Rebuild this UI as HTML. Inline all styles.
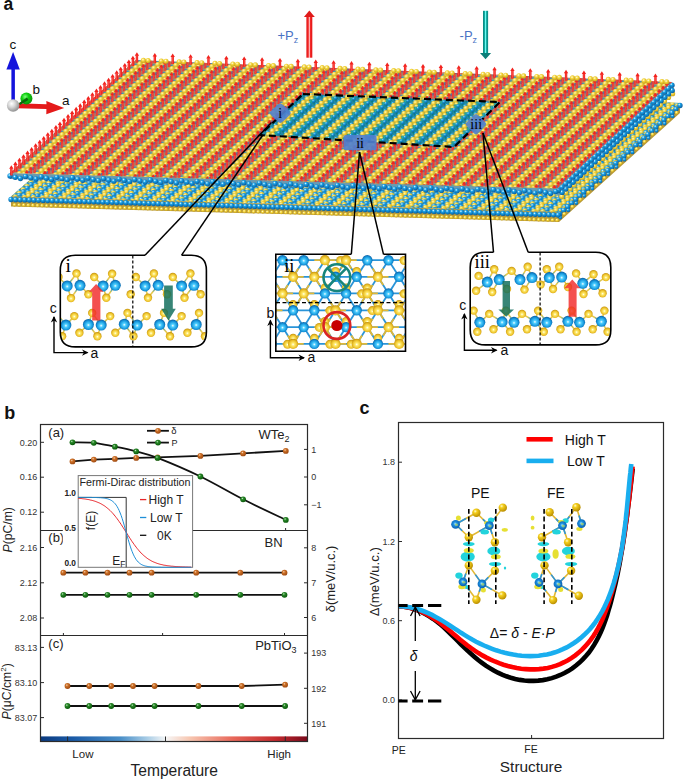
<!DOCTYPE html><html><head><meta charset="utf-8"><style>html,body{margin:0;padding:0;background:#fff;}svg{display:block;font-family:"Liberation Sans",sans-serif;}</style></head><body>
<svg width="685" height="779" viewBox="0 0 685 779">
<defs>
<linearGradient id="cbar" x1="0" x2="1" y1="0" y2="0"><stop offset="0" stop-color="#0b3a7e"/><stop offset="0.12" stop-color="#1a5aa6"/><stop offset="0.3" stop-color="#4a8fc8"/><stop offset="0.4" stop-color="#a9cde6"/><stop offset="0.47" stop-color="#f6f6f6"/><stop offset="0.56" stop-color="#f7c6b0"/><stop offset="0.72" stop-color="#e8685a"/><stop offset="0.88" stop-color="#c42a2e"/><stop offset="1" stop-color="#7a0a1c"/></linearGradient>
<radialGradient id="bo" cx="0.38" cy="0.35" r="0.65"><stop offset="0" stop-color="#f4d8c0"/><stop offset="0.3" stop-color="#d0742a"/><stop offset="1" stop-color="#a04a10"/></radialGradient>
<radialGradient id="bg" cx="0.38" cy="0.35" r="0.65"><stop offset="0" stop-color="#c8e8c8"/><stop offset="0.3" stop-color="#2a8a2a"/><stop offset="1" stop-color="#0a5a0a"/></radialGradient>
</defs>
<rect width="685" height="779" fill="#fff"/>
<defs>
<radialGradient id="gau" cx="0.4" cy="0.36" r="0.66"><stop offset="0" stop-color="#fffce0"/><stop offset="0.4" stop-color="#f6d83e"/><stop offset="1" stop-color="#c8a01a"/></radialGradient>
<radialGradient id="gbl" cx="0.36" cy="0.32" r="0.7"><stop offset="0" stop-color="#e0f8ff"/><stop offset="0.35" stop-color="#18a0e6"/><stop offset="1" stop-color="#0a5c9c"/></radialGradient>
<circle id="au" r="2.55" fill="url(#gau)"/>
<circle id="aud" r="2.0" fill="#d8b830"/>
<circle id="aus2" r="2.2" fill="url(#gau)"/>
<circle id="aus" r="1.8" fill="url(#gau)"/>
<circle id="bw" r="1.6" fill="#1e90d6"/>
<circle id="bwb" r="2.65" fill="url(#gbl)"/>
<circle id="bwm" r="1.9" fill="url(#gbl)"/>
<g id="ar"><rect x="-1.2" y="-6.8" width="2.4" height="7.2" fill="#f2221e"/><rect x="-0.25" y="-6.6" width="0.5" height="6.7" fill="#ff6a60"/><path d="M-2.2 -6.4 L0 -9.9 L2.2 -6.4Z" fill="#f2221e"/></g>
<g id="at"><rect x="-1.1" y="-4" width="2.2" height="7.2" fill="#0b8a88"/><rect x="-0.3" y="-3.8" width="0.6" height="6.8" fill="#40c8c0"/><path d="M-2 3 L0 6.2 L2 3Z" fill="#0a7c7a"/></g>
<pattern id="ptop" patternUnits="userSpaceOnUse" x="0" y="0" width="4" height="1" patternTransform="matrix(4.5142 0.1562 -3.8806 3.5403 135.6 60)">
<use href="#au" transform="matrix(0.2134 -0.0094 0.2339 0.2721 -2.25 -2)"/>
<use href="#aus2" transform="matrix(0.2134 -0.0094 0.2339 0.2721 -1.2 -2)"/>
<use href="#au" transform="matrix(0.2134 -0.0094 0.2339 0.2721 1.75 -2)"/>
<use href="#aus2" transform="matrix(0.2134 -0.0094 0.2339 0.2721 2.8 -2)"/>
<use href="#au" transform="matrix(0.2134 -0.0094 0.2339 0.2721 5.75 -2)"/>
<use href="#bw" transform="matrix(0.2134 -0.0094 0.2339 0.2721 -0.4 -1.5)"/>
<use href="#bw" transform="matrix(0.2134 -0.0094 0.2339 0.2721 1.2 -1.55)"/>
<use href="#ar" transform="matrix(0.2134 -0.0094 0.2339 0.2721 0.77 -1.46)"/>
<use href="#bw" transform="matrix(0.2134 -0.0094 0.2339 0.2721 3.6 -1.5)"/>
<use href="#bw" transform="matrix(0.2134 -0.0094 0.2339 0.2721 5.2 -1.55)"/>
<use href="#ar" transform="matrix(0.2134 -0.0094 0.2339 0.2721 4.77 -1.46)"/>
<use href="#au" transform="matrix(0.2134 -0.0094 0.2339 0.2721 -2.25 -1)"/>
<use href="#aus2" transform="matrix(0.2134 -0.0094 0.2339 0.2721 -1.2 -1)"/>
<use href="#au" transform="matrix(0.2134 -0.0094 0.2339 0.2721 1.75 -1)"/>
<use href="#aus2" transform="matrix(0.2134 -0.0094 0.2339 0.2721 2.8 -1)"/>
<use href="#au" transform="matrix(0.2134 -0.0094 0.2339 0.2721 5.75 -1)"/>
<use href="#bw" transform="matrix(0.2134 -0.0094 0.2339 0.2721 -0.4 -0.5)"/>
<use href="#bw" transform="matrix(0.2134 -0.0094 0.2339 0.2721 1.2 -0.55)"/>
<use href="#ar" transform="matrix(0.2134 -0.0094 0.2339 0.2721 0.77 -0.46)"/>
<use href="#bw" transform="matrix(0.2134 -0.0094 0.2339 0.2721 3.6 -0.5)"/>
<use href="#bw" transform="matrix(0.2134 -0.0094 0.2339 0.2721 5.2 -0.55)"/>
<use href="#ar" transform="matrix(0.2134 -0.0094 0.2339 0.2721 4.77 -0.46)"/>
<use href="#au" transform="matrix(0.2134 -0.0094 0.2339 0.2721 -2.25 0)"/>
<use href="#aus2" transform="matrix(0.2134 -0.0094 0.2339 0.2721 -1.2 0)"/>
<use href="#au" transform="matrix(0.2134 -0.0094 0.2339 0.2721 1.75 0)"/>
<use href="#aus2" transform="matrix(0.2134 -0.0094 0.2339 0.2721 2.8 0)"/>
<use href="#au" transform="matrix(0.2134 -0.0094 0.2339 0.2721 5.75 0)"/>
<use href="#bw" transform="matrix(0.2134 -0.0094 0.2339 0.2721 -0.4 0.5)"/>
<use href="#bw" transform="matrix(0.2134 -0.0094 0.2339 0.2721 1.2 0.45)"/>
<use href="#ar" transform="matrix(0.2134 -0.0094 0.2339 0.2721 0.77 0.54)"/>
<use href="#bw" transform="matrix(0.2134 -0.0094 0.2339 0.2721 3.6 0.5)"/>
<use href="#bw" transform="matrix(0.2134 -0.0094 0.2339 0.2721 5.2 0.45)"/>
<use href="#ar" transform="matrix(0.2134 -0.0094 0.2339 0.2721 4.77 0.54)"/>
<use href="#au" transform="matrix(0.2134 -0.0094 0.2339 0.2721 -2.25 1)"/>
<use href="#aus2" transform="matrix(0.2134 -0.0094 0.2339 0.2721 -1.2 1)"/>
<use href="#au" transform="matrix(0.2134 -0.0094 0.2339 0.2721 1.75 1)"/>
<use href="#aus2" transform="matrix(0.2134 -0.0094 0.2339 0.2721 2.8 1)"/>
<use href="#au" transform="matrix(0.2134 -0.0094 0.2339 0.2721 5.75 1)"/>
<use href="#bw" transform="matrix(0.2134 -0.0094 0.2339 0.2721 -0.4 1.5)"/>
<use href="#bw" transform="matrix(0.2134 -0.0094 0.2339 0.2721 1.2 1.45)"/>
<use href="#ar" transform="matrix(0.2134 -0.0094 0.2339 0.2721 0.77 1.54)"/>
<use href="#bw" transform="matrix(0.2134 -0.0094 0.2339 0.2721 3.6 1.5)"/>
<use href="#bw" transform="matrix(0.2134 -0.0094 0.2339 0.2721 5.2 1.45)"/>
<use href="#ar" transform="matrix(0.2134 -0.0094 0.2339 0.2721 4.77 1.54)"/>
<use href="#au" transform="matrix(0.2134 -0.0094 0.2339 0.2721 -2.25 2)"/>
<use href="#aus2" transform="matrix(0.2134 -0.0094 0.2339 0.2721 -1.2 2)"/>
<use href="#au" transform="matrix(0.2134 -0.0094 0.2339 0.2721 1.75 2)"/>
<use href="#aus2" transform="matrix(0.2134 -0.0094 0.2339 0.2721 2.8 2)"/>
<use href="#au" transform="matrix(0.2134 -0.0094 0.2339 0.2721 5.75 2)"/>
<use href="#bw" transform="matrix(0.2134 -0.0094 0.2339 0.2721 -0.4 2.5)"/>
<use href="#bw" transform="matrix(0.2134 -0.0094 0.2339 0.2721 1.2 2.45)"/>
<use href="#ar" transform="matrix(0.2134 -0.0094 0.2339 0.2721 0.77 2.54)"/>
<use href="#bw" transform="matrix(0.2134 -0.0094 0.2339 0.2721 3.6 2.5)"/>
<use href="#bw" transform="matrix(0.2134 -0.0094 0.2339 0.2721 5.2 2.45)"/>
<use href="#ar" transform="matrix(0.2134 -0.0094 0.2339 0.2721 4.77 2.54)"/>
</pattern>
<pattern id="pdsh" patternUnits="userSpaceOnUse" x="0" y="0" width="4" height="1" patternTransform="matrix(4.5142 0.1562 -3.8806 3.5403 135.6 60)">
<use href="#at" transform="matrix(0.2134 -0.0094 0.2339 0.2721 -0.4 -2.82)"/>
<use href="#at" transform="matrix(0.2134 -0.0094 0.2339 0.2721 3.6 -2.82)"/>
<use href="#au" transform="matrix(0.2134 -0.0094 0.2339 0.2721 -2.25 -2)"/>
<use href="#aus2" transform="matrix(0.2134 -0.0094 0.2339 0.2721 -1.2 -2)"/>
<use href="#au" transform="matrix(0.2134 -0.0094 0.2339 0.2721 1.75 -2)"/>
<use href="#aus2" transform="matrix(0.2134 -0.0094 0.2339 0.2721 2.8 -2)"/>
<use href="#at" transform="matrix(0.2134 -0.0094 0.2339 0.2721 -0.4 -1.82)"/>
<use href="#au" transform="matrix(0.2134 -0.0094 0.2339 0.2721 5.75 -2)"/>
<use href="#at" transform="matrix(0.2134 -0.0094 0.2339 0.2721 3.6 -1.82)"/>
<use href="#bwm" transform="matrix(0.2134 -0.0094 0.2339 0.2721 -0.4 -1.5)"/>
<use href="#bwm" transform="matrix(0.2134 -0.0094 0.2339 0.2721 1.1 -1.55)"/>
<use href="#bwm" transform="matrix(0.2134 -0.0094 0.2339 0.2721 3.6 -1.5)"/>
<use href="#bwm" transform="matrix(0.2134 -0.0094 0.2339 0.2721 5.1 -1.55)"/>
<use href="#au" transform="matrix(0.2134 -0.0094 0.2339 0.2721 -2.25 -1)"/>
<use href="#aus2" transform="matrix(0.2134 -0.0094 0.2339 0.2721 -1.2 -1)"/>
<use href="#au" transform="matrix(0.2134 -0.0094 0.2339 0.2721 1.75 -1)"/>
<use href="#aus2" transform="matrix(0.2134 -0.0094 0.2339 0.2721 2.8 -1)"/>
<use href="#at" transform="matrix(0.2134 -0.0094 0.2339 0.2721 -0.4 -0.82)"/>
<use href="#au" transform="matrix(0.2134 -0.0094 0.2339 0.2721 5.75 -1)"/>
<use href="#at" transform="matrix(0.2134 -0.0094 0.2339 0.2721 3.6 -0.82)"/>
<use href="#bwm" transform="matrix(0.2134 -0.0094 0.2339 0.2721 -0.4 -0.5)"/>
<use href="#bwm" transform="matrix(0.2134 -0.0094 0.2339 0.2721 1.1 -0.55)"/>
<use href="#bwm" transform="matrix(0.2134 -0.0094 0.2339 0.2721 3.6 -0.5)"/>
<use href="#bwm" transform="matrix(0.2134 -0.0094 0.2339 0.2721 5.1 -0.55)"/>
<use href="#au" transform="matrix(0.2134 -0.0094 0.2339 0.2721 -2.25 0)"/>
<use href="#aus2" transform="matrix(0.2134 -0.0094 0.2339 0.2721 -1.2 0)"/>
<use href="#au" transform="matrix(0.2134 -0.0094 0.2339 0.2721 1.75 0)"/>
<use href="#aus2" transform="matrix(0.2134 -0.0094 0.2339 0.2721 2.8 0)"/>
<use href="#at" transform="matrix(0.2134 -0.0094 0.2339 0.2721 -0.4 0.18)"/>
<use href="#au" transform="matrix(0.2134 -0.0094 0.2339 0.2721 5.75 0)"/>
<use href="#at" transform="matrix(0.2134 -0.0094 0.2339 0.2721 3.6 0.18)"/>
<use href="#bwm" transform="matrix(0.2134 -0.0094 0.2339 0.2721 -0.4 0.5)"/>
<use href="#bwm" transform="matrix(0.2134 -0.0094 0.2339 0.2721 1.1 0.45)"/>
<use href="#bwm" transform="matrix(0.2134 -0.0094 0.2339 0.2721 3.6 0.5)"/>
<use href="#bwm" transform="matrix(0.2134 -0.0094 0.2339 0.2721 5.1 0.45)"/>
<use href="#au" transform="matrix(0.2134 -0.0094 0.2339 0.2721 -2.25 1)"/>
<use href="#aus2" transform="matrix(0.2134 -0.0094 0.2339 0.2721 -1.2 1)"/>
<use href="#au" transform="matrix(0.2134 -0.0094 0.2339 0.2721 1.75 1)"/>
<use href="#aus2" transform="matrix(0.2134 -0.0094 0.2339 0.2721 2.8 1)"/>
<use href="#at" transform="matrix(0.2134 -0.0094 0.2339 0.2721 -0.4 1.18)"/>
<use href="#au" transform="matrix(0.2134 -0.0094 0.2339 0.2721 5.75 1)"/>
<use href="#at" transform="matrix(0.2134 -0.0094 0.2339 0.2721 3.6 1.18)"/>
<use href="#bwm" transform="matrix(0.2134 -0.0094 0.2339 0.2721 -0.4 1.5)"/>
<use href="#bwm" transform="matrix(0.2134 -0.0094 0.2339 0.2721 1.1 1.45)"/>
<use href="#bwm" transform="matrix(0.2134 -0.0094 0.2339 0.2721 3.6 1.5)"/>
<use href="#bwm" transform="matrix(0.2134 -0.0094 0.2339 0.2721 5.1 1.45)"/>
<use href="#au" transform="matrix(0.2134 -0.0094 0.2339 0.2721 -2.25 2)"/>
<use href="#aus2" transform="matrix(0.2134 -0.0094 0.2339 0.2721 -1.2 2)"/>
<use href="#au" transform="matrix(0.2134 -0.0094 0.2339 0.2721 1.75 2)"/>
<use href="#aus2" transform="matrix(0.2134 -0.0094 0.2339 0.2721 2.8 2)"/>
<use href="#au" transform="matrix(0.2134 -0.0094 0.2339 0.2721 5.75 2)"/>
<use href="#bwm" transform="matrix(0.2134 -0.0094 0.2339 0.2721 -0.4 2.5)"/>
<use href="#bwm" transform="matrix(0.2134 -0.0094 0.2339 0.2721 1.1 2.45)"/>
<use href="#bwm" transform="matrix(0.2134 -0.0094 0.2339 0.2721 3.6 2.5)"/>
<use href="#bwm" transform="matrix(0.2134 -0.0094 0.2339 0.2721 5.1 2.45)"/>
</pattern>
<pattern id="plow" patternUnits="userSpaceOnUse" x="0" y="0" width="4" height="1" patternTransform="matrix(4.5142 0.1562 -3.8806 3.5403 143.6 82)">
<use href="#au" transform="matrix(0.2134 -0.0094 0.2339 0.2721 -2 -2)"/>
<use href="#bwb" transform="matrix(0.2134 -0.0094 0.2339 0.2721 -1 -2)"/>
<use href="#bwb" transform="matrix(0.2134 -0.0094 0.2339 0.2721 0 -2)"/>
<use href="#bwb" transform="matrix(0.2134 -0.0094 0.2339 0.2721 1 -2)"/>
<use href="#au" transform="matrix(0.2134 -0.0094 0.2339 0.2721 2 -2)"/>
<use href="#bwb" transform="matrix(0.2134 -0.0094 0.2339 0.2721 3 -2)"/>
<use href="#bwb" transform="matrix(0.2134 -0.0094 0.2339 0.2721 4 -2)"/>
<use href="#bwb" transform="matrix(0.2134 -0.0094 0.2339 0.2721 5 -2)"/>
<use href="#au" transform="matrix(0.2134 -0.0094 0.2339 0.2721 6 -2)"/>
<use href="#au" transform="matrix(0.2134 -0.0094 0.2339 0.2721 -2.5 -1.5)"/>
<use href="#au" transform="matrix(0.2134 -0.0094 0.2339 0.2721 -0.5 -1.5)"/>
<use href="#au" transform="matrix(0.2134 -0.0094 0.2339 0.2721 1.5 -1.5)"/>
<use href="#au" transform="matrix(0.2134 -0.0094 0.2339 0.2721 3.5 -1.5)"/>
<use href="#au" transform="matrix(0.2134 -0.0094 0.2339 0.2721 5.5 -1.5)"/>
<use href="#au" transform="matrix(0.2134 -0.0094 0.2339 0.2721 -2 -1)"/>
<use href="#bwb" transform="matrix(0.2134 -0.0094 0.2339 0.2721 -1 -1)"/>
<use href="#bwb" transform="matrix(0.2134 -0.0094 0.2339 0.2721 0 -1)"/>
<use href="#bwb" transform="matrix(0.2134 -0.0094 0.2339 0.2721 1 -1)"/>
<use href="#au" transform="matrix(0.2134 -0.0094 0.2339 0.2721 2 -1)"/>
<use href="#bwb" transform="matrix(0.2134 -0.0094 0.2339 0.2721 3 -1)"/>
<use href="#bwb" transform="matrix(0.2134 -0.0094 0.2339 0.2721 4 -1)"/>
<use href="#bwb" transform="matrix(0.2134 -0.0094 0.2339 0.2721 5 -1)"/>
<use href="#au" transform="matrix(0.2134 -0.0094 0.2339 0.2721 6 -1)"/>
<use href="#au" transform="matrix(0.2134 -0.0094 0.2339 0.2721 -2.5 -0.5)"/>
<use href="#au" transform="matrix(0.2134 -0.0094 0.2339 0.2721 -0.5 -0.5)"/>
<use href="#au" transform="matrix(0.2134 -0.0094 0.2339 0.2721 1.5 -0.5)"/>
<use href="#au" transform="matrix(0.2134 -0.0094 0.2339 0.2721 3.5 -0.5)"/>
<use href="#au" transform="matrix(0.2134 -0.0094 0.2339 0.2721 5.5 -0.5)"/>
<use href="#au" transform="matrix(0.2134 -0.0094 0.2339 0.2721 -2 0)"/>
<use href="#bwb" transform="matrix(0.2134 -0.0094 0.2339 0.2721 -1 0)"/>
<use href="#bwb" transform="matrix(0.2134 -0.0094 0.2339 0.2721 0 0)"/>
<use href="#bwb" transform="matrix(0.2134 -0.0094 0.2339 0.2721 1 0)"/>
<use href="#au" transform="matrix(0.2134 -0.0094 0.2339 0.2721 2 0)"/>
<use href="#bwb" transform="matrix(0.2134 -0.0094 0.2339 0.2721 3 0)"/>
<use href="#bwb" transform="matrix(0.2134 -0.0094 0.2339 0.2721 4 0)"/>
<use href="#bwb" transform="matrix(0.2134 -0.0094 0.2339 0.2721 5 0)"/>
<use href="#au" transform="matrix(0.2134 -0.0094 0.2339 0.2721 6 0)"/>
<use href="#au" transform="matrix(0.2134 -0.0094 0.2339 0.2721 -2.5 0.5)"/>
<use href="#au" transform="matrix(0.2134 -0.0094 0.2339 0.2721 -0.5 0.5)"/>
<use href="#au" transform="matrix(0.2134 -0.0094 0.2339 0.2721 1.5 0.5)"/>
<use href="#au" transform="matrix(0.2134 -0.0094 0.2339 0.2721 3.5 0.5)"/>
<use href="#au" transform="matrix(0.2134 -0.0094 0.2339 0.2721 5.5 0.5)"/>
<use href="#au" transform="matrix(0.2134 -0.0094 0.2339 0.2721 -2 1)"/>
<use href="#bwb" transform="matrix(0.2134 -0.0094 0.2339 0.2721 -1 1)"/>
<use href="#bwb" transform="matrix(0.2134 -0.0094 0.2339 0.2721 0 1)"/>
<use href="#bwb" transform="matrix(0.2134 -0.0094 0.2339 0.2721 1 1)"/>
<use href="#au" transform="matrix(0.2134 -0.0094 0.2339 0.2721 2 1)"/>
<use href="#bwb" transform="matrix(0.2134 -0.0094 0.2339 0.2721 3 1)"/>
<use href="#bwb" transform="matrix(0.2134 -0.0094 0.2339 0.2721 4 1)"/>
<use href="#bwb" transform="matrix(0.2134 -0.0094 0.2339 0.2721 5 1)"/>
<use href="#au" transform="matrix(0.2134 -0.0094 0.2339 0.2721 6 1)"/>
<use href="#au" transform="matrix(0.2134 -0.0094 0.2339 0.2721 -2.5 1.5)"/>
<use href="#au" transform="matrix(0.2134 -0.0094 0.2339 0.2721 -0.5 1.5)"/>
<use href="#au" transform="matrix(0.2134 -0.0094 0.2339 0.2721 1.5 1.5)"/>
<use href="#au" transform="matrix(0.2134 -0.0094 0.2339 0.2721 3.5 1.5)"/>
<use href="#au" transform="matrix(0.2134 -0.0094 0.2339 0.2721 5.5 1.5)"/>
<use href="#au" transform="matrix(0.2134 -0.0094 0.2339 0.2721 -2 2)"/>
<use href="#bwb" transform="matrix(0.2134 -0.0094 0.2339 0.2721 -1 2)"/>
<use href="#bwb" transform="matrix(0.2134 -0.0094 0.2339 0.2721 0 2)"/>
<use href="#bwb" transform="matrix(0.2134 -0.0094 0.2339 0.2721 1 2)"/>
<use href="#au" transform="matrix(0.2134 -0.0094 0.2339 0.2721 2 2)"/>
<use href="#bwb" transform="matrix(0.2134 -0.0094 0.2339 0.2721 3 2)"/>
<use href="#bwb" transform="matrix(0.2134 -0.0094 0.2339 0.2721 4 2)"/>
<use href="#bwb" transform="matrix(0.2134 -0.0094 0.2339 0.2721 5 2)"/>
<use href="#au" transform="matrix(0.2134 -0.0094 0.2339 0.2721 6 2)"/>
<use href="#au" transform="matrix(0.2134 -0.0094 0.2339 0.2721 -2.5 2.5)"/>
<use href="#au" transform="matrix(0.2134 -0.0094 0.2339 0.2721 -0.5 2.5)"/>
<use href="#au" transform="matrix(0.2134 -0.0094 0.2339 0.2721 1.5 2.5)"/>
<use href="#au" transform="matrix(0.2134 -0.0094 0.2339 0.2721 3.5 2.5)"/>
<use href="#au" transform="matrix(0.2134 -0.0094 0.2339 0.2721 5.5 2.5)"/>
</pattern>
</defs>
<polygon points="143.6,80 680,103 559,212 11,196.5" fill="#c9a832"/>
<polygon points="143.6,80 680,103 559,212 11,196.5" fill="url(#plow)"/>
<polygon points="11,196.5 559,212 680,103 680,113 559,222 11,206.5" fill="#b89a3a"/>
<use href="#bwb" x="680" y="105.5"/>
<use href="#bwb" x="675.99" y="109.11"/>
<use href="#bwb" x="671.98" y="112.73"/>
<use href="#bwb" x="667.96" y="116.34"/>
<use href="#bwb" x="663.95" y="119.96"/>
<use href="#bwb" x="659.94" y="123.57"/>
<use href="#bwb" x="655.93" y="127.19"/>
<use href="#bwb" x="651.92" y="130.8"/>
<use href="#bwb" x="647.9" y="134.41"/>
<use href="#bwb" x="643.89" y="138.03"/>
<use href="#bwb" x="639.88" y="141.64"/>
<use href="#bwb" x="635.87" y="145.26"/>
<use href="#bwb" x="631.85" y="148.87"/>
<use href="#bwb" x="627.84" y="152.49"/>
<use href="#bwb" x="623.83" y="156.1"/>
<use href="#bwb" x="619.82" y="159.71"/>
<use href="#bwb" x="615.81" y="163.33"/>
<use href="#bwb" x="611.79" y="166.94"/>
<use href="#bwb" x="607.78" y="170.56"/>
<use href="#bwb" x="603.77" y="174.17"/>
<use href="#bwb" x="599.76" y="177.78"/>
<use href="#bwb" x="595.75" y="181.4"/>
<use href="#bwb" x="591.73" y="185.01"/>
<use href="#bwb" x="587.72" y="188.63"/>
<use href="#bwb" x="583.71" y="192.24"/>
<use href="#bwb" x="579.7" y="195.86"/>
<use href="#bwb" x="575.68" y="199.47"/>
<use href="#bwb" x="571.67" y="203.08"/>
<use href="#bwb" x="567.66" y="206.7"/>
<use href="#bwb" x="563.65" y="210.31"/>
<use href="#bwb" x="559.64" y="213.93"/>
<use href="#aus" x="676.64" y="112.67"/>
<use href="#aus" x="668.62" y="119.9"/>
<use href="#aus" x="660.59" y="127.13"/>
<use href="#aus" x="652.57" y="134.36"/>
<use href="#aus" x="644.55" y="141.59"/>
<use href="#aus" x="636.52" y="148.82"/>
<use href="#aus" x="628.5" y="156.04"/>
<use href="#aus" x="620.47" y="163.27"/>
<use href="#aus" x="612.45" y="170.5"/>
<use href="#aus" x="604.42" y="177.73"/>
<use href="#aus" x="596.4" y="184.96"/>
<use href="#aus" x="588.38" y="192.19"/>
<use href="#aus" x="580.35" y="199.42"/>
<use href="#aus" x="572.33" y="206.64"/>
<use href="#aus" x="564.3" y="213.87"/>
<use href="#bwm" x="672.63" y="116.29"/>
<use href="#bwm" x="664.61" y="123.52"/>
<use href="#bwm" x="656.58" y="130.74"/>
<use href="#bwm" x="648.56" y="137.97"/>
<use href="#bwm" x="640.53" y="145.2"/>
<use href="#bwm" x="632.51" y="152.43"/>
<use href="#bwm" x="624.48" y="159.66"/>
<use href="#bwm" x="616.46" y="166.89"/>
<use href="#bwm" x="608.44" y="174.12"/>
<use href="#bwm" x="600.41" y="181.34"/>
<use href="#bwm" x="592.39" y="188.57"/>
<use href="#bwm" x="584.36" y="195.8"/>
<use href="#bwm" x="576.34" y="203.03"/>
<use href="#bwm" x="568.31" y="210.26"/>
<use href="#bwm" x="560.29" y="217.49"/>
<use href="#bwb" x="11" y="199.5"/>
<use href="#bwb" x="15.6" y="199.63"/>
<use href="#bwb" x="20.2" y="199.76"/>
<use href="#bwb" x="24.79" y="199.89"/>
<use href="#bwb" x="29.39" y="200.02"/>
<use href="#bwb" x="33.99" y="200.15"/>
<use href="#bwb" x="38.59" y="200.28"/>
<use href="#bwb" x="43.19" y="200.41"/>
<use href="#bwb" x="47.79" y="200.54"/>
<use href="#bwb" x="52.38" y="200.67"/>
<use href="#bwb" x="56.98" y="200.8"/>
<use href="#bwb" x="61.58" y="200.93"/>
<use href="#bwb" x="66.18" y="201.06"/>
<use href="#bwb" x="70.78" y="201.19"/>
<use href="#bwb" x="75.37" y="201.32"/>
<use href="#bwb" x="79.97" y="201.45"/>
<use href="#bwb" x="84.57" y="201.58"/>
<use href="#bwb" x="89.17" y="201.71"/>
<use href="#bwb" x="93.77" y="201.84"/>
<use href="#bwb" x="98.37" y="201.97"/>
<use href="#bwb" x="102.96" y="202.1"/>
<use href="#bwb" x="107.56" y="202.23"/>
<use href="#bwb" x="112.16" y="202.36"/>
<use href="#bwb" x="116.76" y="202.49"/>
<use href="#bwb" x="121.36" y="202.62"/>
<use href="#bwb" x="125.95" y="202.75"/>
<use href="#bwb" x="130.55" y="202.88"/>
<use href="#bwb" x="135.15" y="203.01"/>
<use href="#bwb" x="139.75" y="203.14"/>
<use href="#bwb" x="144.35" y="203.27"/>
<use href="#bwb" x="148.94" y="203.4"/>
<use href="#bwb" x="153.54" y="203.53"/>
<use href="#bwb" x="158.14" y="203.66"/>
<use href="#bwb" x="162.74" y="203.79"/>
<use href="#bwb" x="167.34" y="203.92"/>
<use href="#bwb" x="171.94" y="204.05"/>
<use href="#bwb" x="176.53" y="204.18"/>
<use href="#bwb" x="181.13" y="204.31"/>
<use href="#bwb" x="185.73" y="204.44"/>
<use href="#bwb" x="190.33" y="204.57"/>
<use href="#bwb" x="194.93" y="204.7"/>
<use href="#bwb" x="199.52" y="204.83"/>
<use href="#bwb" x="204.12" y="204.96"/>
<use href="#bwb" x="208.72" y="205.09"/>
<use href="#bwb" x="213.32" y="205.22"/>
<use href="#bwb" x="217.92" y="205.35"/>
<use href="#bwb" x="222.52" y="205.48"/>
<use href="#bwb" x="227.11" y="205.61"/>
<use href="#bwb" x="231.71" y="205.74"/>
<use href="#bwb" x="236.31" y="205.87"/>
<use href="#bwb" x="240.91" y="206"/>
<use href="#bwb" x="245.51" y="206.13"/>
<use href="#bwb" x="250.1" y="206.26"/>
<use href="#bwb" x="254.7" y="206.39"/>
<use href="#bwb" x="259.3" y="206.52"/>
<use href="#bwb" x="263.9" y="206.65"/>
<use href="#bwb" x="268.5" y="206.78"/>
<use href="#bwb" x="273.1" y="206.91"/>
<use href="#bwb" x="277.69" y="207.04"/>
<use href="#bwb" x="282.29" y="207.17"/>
<use href="#bwb" x="286.89" y="207.3"/>
<use href="#bwb" x="291.49" y="207.43"/>
<use href="#bwb" x="296.09" y="207.56"/>
<use href="#bwb" x="300.68" y="207.69"/>
<use href="#bwb" x="305.28" y="207.82"/>
<use href="#bwb" x="309.88" y="207.95"/>
<use href="#bwb" x="314.48" y="208.08"/>
<use href="#bwb" x="319.08" y="208.21"/>
<use href="#bwb" x="323.67" y="208.34"/>
<use href="#bwb" x="328.27" y="208.47"/>
<use href="#bwb" x="332.87" y="208.6"/>
<use href="#bwb" x="337.47" y="208.73"/>
<use href="#bwb" x="342.07" y="208.86"/>
<use href="#bwb" x="346.67" y="208.99"/>
<use href="#bwb" x="351.26" y="209.12"/>
<use href="#bwb" x="355.86" y="209.25"/>
<use href="#bwb" x="360.46" y="209.38"/>
<use href="#bwb" x="365.06" y="209.51"/>
<use href="#bwb" x="369.66" y="209.64"/>
<use href="#bwb" x="374.25" y="209.77"/>
<use href="#bwb" x="378.85" y="209.9"/>
<use href="#bwb" x="383.45" y="210.03"/>
<use href="#bwb" x="388.05" y="210.16"/>
<use href="#bwb" x="392.65" y="210.29"/>
<use href="#bwb" x="397.25" y="210.42"/>
<use href="#bwb" x="401.84" y="210.55"/>
<use href="#bwb" x="406.44" y="210.68"/>
<use href="#bwb" x="411.04" y="210.82"/>
<use href="#bwb" x="415.64" y="210.95"/>
<use href="#bwb" x="420.24" y="211.08"/>
<use href="#bwb" x="424.83" y="211.21"/>
<use href="#bwb" x="429.43" y="211.34"/>
<use href="#bwb" x="434.03" y="211.47"/>
<use href="#bwb" x="438.63" y="211.6"/>
<use href="#bwb" x="443.23" y="211.73"/>
<use href="#bwb" x="447.83" y="211.86"/>
<use href="#bwb" x="452.42" y="211.99"/>
<use href="#bwb" x="457.02" y="212.12"/>
<use href="#bwb" x="461.62" y="212.25"/>
<use href="#bwb" x="466.22" y="212.38"/>
<use href="#bwb" x="470.82" y="212.51"/>
<use href="#bwb" x="475.41" y="212.64"/>
<use href="#bwb" x="480.01" y="212.77"/>
<use href="#bwb" x="484.61" y="212.9"/>
<use href="#bwb" x="489.21" y="213.03"/>
<use href="#bwb" x="493.81" y="213.16"/>
<use href="#bwb" x="498.41" y="213.29"/>
<use href="#bwb" x="503" y="213.42"/>
<use href="#bwb" x="507.6" y="213.55"/>
<use href="#bwb" x="512.2" y="213.68"/>
<use href="#bwb" x="516.8" y="213.81"/>
<use href="#bwb" x="521.4" y="213.94"/>
<use href="#bwb" x="525.99" y="214.07"/>
<use href="#bwb" x="530.59" y="214.2"/>
<use href="#bwb" x="535.19" y="214.33"/>
<use href="#bwb" x="539.79" y="214.46"/>
<use href="#bwb" x="544.39" y="214.59"/>
<use href="#bwb" x="548.98" y="214.72"/>
<use href="#bwb" x="553.58" y="214.85"/>
<use href="#bwb" x="558.18" y="214.98"/>
<use href="#aus" x="14.5" y="204.84"/>
<use href="#aus" x="19.1" y="204.97"/>
<use href="#aus" x="23.7" y="205.1"/>
<use href="#aus" x="28.29" y="205.23"/>
<use href="#aus" x="32.89" y="205.36"/>
<use href="#aus" x="37.49" y="205.49"/>
<use href="#aus" x="42.09" y="205.62"/>
<use href="#aus" x="46.69" y="205.75"/>
<use href="#aus" x="51.28" y="205.88"/>
<use href="#aus" x="55.88" y="206.01"/>
<use href="#aus" x="60.48" y="206.14"/>
<use href="#aus" x="65.08" y="206.27"/>
<use href="#aus" x="69.68" y="206.4"/>
<use href="#aus" x="74.28" y="206.53"/>
<use href="#aus" x="78.87" y="206.66"/>
<use href="#aus" x="83.47" y="206.79"/>
<use href="#aus" x="88.07" y="206.92"/>
<use href="#aus" x="92.67" y="207.05"/>
<use href="#aus" x="97.27" y="207.18"/>
<use href="#aus" x="101.86" y="207.31"/>
<use href="#aus" x="106.46" y="207.44"/>
<use href="#aus" x="111.06" y="207.57"/>
<use href="#aus" x="115.66" y="207.7"/>
<use href="#aus" x="120.26" y="207.83"/>
<use href="#aus" x="124.86" y="207.96"/>
<use href="#aus" x="129.45" y="208.09"/>
<use href="#aus" x="134.05" y="208.22"/>
<use href="#aus" x="138.65" y="208.35"/>
<use href="#aus" x="143.25" y="208.48"/>
<use href="#aus" x="147.85" y="208.61"/>
<use href="#aus" x="152.44" y="208.74"/>
<use href="#aus" x="157.04" y="208.87"/>
<use href="#aus" x="161.64" y="209"/>
<use href="#aus" x="166.24" y="209.13"/>
<use href="#aus" x="170.84" y="209.26"/>
<use href="#aus" x="175.44" y="209.39"/>
<use href="#aus" x="180.03" y="209.52"/>
<use href="#aus" x="184.63" y="209.65"/>
<use href="#aus" x="189.23" y="209.78"/>
<use href="#aus" x="193.83" y="209.91"/>
<use href="#aus" x="198.43" y="210.04"/>
<use href="#aus" x="203.02" y="210.17"/>
<use href="#aus" x="207.62" y="210.3"/>
<use href="#aus" x="212.22" y="210.43"/>
<use href="#aus" x="216.82" y="210.56"/>
<use href="#aus" x="221.42" y="210.69"/>
<use href="#aus" x="226.01" y="210.83"/>
<use href="#aus" x="230.61" y="210.96"/>
<use href="#aus" x="235.21" y="211.09"/>
<use href="#aus" x="239.81" y="211.22"/>
<use href="#aus" x="244.41" y="211.35"/>
<use href="#aus" x="249.01" y="211.48"/>
<use href="#aus" x="253.6" y="211.61"/>
<use href="#aus" x="258.2" y="211.74"/>
<use href="#aus" x="262.8" y="211.87"/>
<use href="#aus" x="267.4" y="212"/>
<use href="#aus" x="272" y="212.13"/>
<use href="#aus" x="276.59" y="212.26"/>
<use href="#aus" x="281.19" y="212.39"/>
<use href="#aus" x="285.79" y="212.52"/>
<use href="#aus" x="290.39" y="212.65"/>
<use href="#aus" x="294.99" y="212.78"/>
<use href="#aus" x="299.59" y="212.91"/>
<use href="#aus" x="304.18" y="213.04"/>
<use href="#aus" x="308.78" y="213.17"/>
<use href="#aus" x="313.38" y="213.3"/>
<use href="#aus" x="317.98" y="213.43"/>
<use href="#aus" x="322.58" y="213.56"/>
<use href="#aus" x="327.17" y="213.69"/>
<use href="#aus" x="331.77" y="213.82"/>
<use href="#aus" x="336.37" y="213.95"/>
<use href="#aus" x="340.97" y="214.08"/>
<use href="#aus" x="345.57" y="214.21"/>
<use href="#aus" x="350.17" y="214.34"/>
<use href="#aus" x="354.76" y="214.47"/>
<use href="#aus" x="359.36" y="214.6"/>
<use href="#aus" x="363.96" y="214.73"/>
<use href="#aus" x="368.56" y="214.86"/>
<use href="#aus" x="373.16" y="214.99"/>
<use href="#aus" x="377.75" y="215.12"/>
<use href="#aus" x="382.35" y="215.25"/>
<use href="#aus" x="386.95" y="215.38"/>
<use href="#aus" x="391.55" y="215.51"/>
<use href="#aus" x="396.15" y="215.64"/>
<use href="#aus" x="400.74" y="215.77"/>
<use href="#aus" x="405.34" y="215.9"/>
<use href="#aus" x="409.94" y="216.03"/>
<use href="#aus" x="414.54" y="216.16"/>
<use href="#aus" x="419.14" y="216.29"/>
<use href="#aus" x="423.74" y="216.42"/>
<use href="#aus" x="428.33" y="216.55"/>
<use href="#aus" x="432.93" y="216.68"/>
<use href="#aus" x="437.53" y="216.81"/>
<use href="#aus" x="442.13" y="216.94"/>
<use href="#aus" x="446.73" y="217.07"/>
<use href="#aus" x="451.32" y="217.2"/>
<use href="#aus" x="455.92" y="217.33"/>
<use href="#aus" x="460.52" y="217.46"/>
<use href="#aus" x="465.12" y="217.59"/>
<use href="#aus" x="469.72" y="217.72"/>
<use href="#aus" x="474.32" y="217.85"/>
<use href="#aus" x="478.91" y="217.98"/>
<use href="#aus" x="483.51" y="218.11"/>
<use href="#aus" x="488.11" y="218.24"/>
<use href="#aus" x="492.71" y="218.37"/>
<use href="#aus" x="497.31" y="218.5"/>
<use href="#aus" x="501.9" y="218.63"/>
<use href="#aus" x="506.5" y="218.76"/>
<use href="#aus" x="511.1" y="218.89"/>
<use href="#aus" x="515.7" y="219.02"/>
<use href="#aus" x="520.3" y="219.15"/>
<use href="#aus" x="524.9" y="219.28"/>
<use href="#aus" x="529.49" y="219.41"/>
<use href="#aus" x="534.09" y="219.54"/>
<use href="#aus" x="538.69" y="219.67"/>
<use href="#aus" x="543.29" y="219.8"/>
<use href="#aus" x="547.89" y="219.93"/>
<use href="#aus" x="552.48" y="220.06"/>
<use href="#aus" x="557.08" y="220.19"/>
<polygon points="10,173 557,188.5 672,82 675,93 560,199.5 557,194.5 10,179" fill="#6a9ab0"/>
<use href="#au" x="672.67" y="93.7"/>
<use href="#au" x="668.56" y="97.5"/>
<use href="#au" x="664.45" y="101.31"/>
<use href="#au" x="660.34" y="105.11"/>
<use href="#au" x="656.23" y="108.92"/>
<use href="#au" x="652.12" y="112.72"/>
<use href="#au" x="648.01" y="116.53"/>
<use href="#au" x="643.9" y="120.33"/>
<use href="#au" x="639.8" y="124.14"/>
<use href="#au" x="635.69" y="127.94"/>
<use href="#au" x="631.58" y="131.75"/>
<use href="#au" x="627.47" y="135.55"/>
<use href="#au" x="623.36" y="139.36"/>
<use href="#au" x="619.25" y="143.16"/>
<use href="#au" x="615.14" y="146.97"/>
<use href="#au" x="611.03" y="150.77"/>
<use href="#au" x="606.93" y="154.58"/>
<use href="#au" x="602.82" y="158.38"/>
<use href="#au" x="598.71" y="162.19"/>
<use href="#au" x="594.6" y="165.99"/>
<use href="#au" x="590.49" y="169.8"/>
<use href="#au" x="586.38" y="173.6"/>
<use href="#au" x="582.27" y="177.41"/>
<use href="#au" x="578.16" y="181.21"/>
<use href="#au" x="574.06" y="185.02"/>
<use href="#au" x="569.95" y="188.82"/>
<use href="#au" x="565.84" y="192.63"/>
<use href="#au" x="561.73" y="196.43"/>
<use href="#bwb" x="672.17" y="90.5"/>
<use href="#bwb" x="668.5" y="93.9"/>
<use href="#bwb" x="664.83" y="97.29"/>
<use href="#bwb" x="661.16" y="100.69"/>
<use href="#bwb" x="657.49" y="104.09"/>
<use href="#bwb" x="653.82" y="107.49"/>
<use href="#bwb" x="650.15" y="110.88"/>
<use href="#bwb" x="646.49" y="114.28"/>
<use href="#bwb" x="642.82" y="117.68"/>
<use href="#bwb" x="639.15" y="121.07"/>
<use href="#bwb" x="635.48" y="124.47"/>
<use href="#bwb" x="631.81" y="127.87"/>
<use href="#bwb" x="628.14" y="131.27"/>
<use href="#bwb" x="624.48" y="134.66"/>
<use href="#bwb" x="620.81" y="138.06"/>
<use href="#bwb" x="617.14" y="141.46"/>
<use href="#bwb" x="613.47" y="144.86"/>
<use href="#bwb" x="609.8" y="148.25"/>
<use href="#bwb" x="606.13" y="151.65"/>
<use href="#bwb" x="602.46" y="155.05"/>
<use href="#bwb" x="598.8" y="158.45"/>
<use href="#bwb" x="595.13" y="161.84"/>
<use href="#bwb" x="591.46" y="165.24"/>
<use href="#bwb" x="587.79" y="168.64"/>
<use href="#bwb" x="584.12" y="172.04"/>
<use href="#bwb" x="580.45" y="175.43"/>
<use href="#bwb" x="576.78" y="178.83"/>
<use href="#bwb" x="573.12" y="182.23"/>
<use href="#bwb" x="569.45" y="185.62"/>
<use href="#bwb" x="565.78" y="189.02"/>
<use href="#bwb" x="562.11" y="192.42"/>
<use href="#bwb" x="672" y="85.2"/>
<use href="#bwb" x="668.33" y="88.6"/>
<use href="#bwb" x="664.66" y="91.99"/>
<use href="#bwb" x="660.99" y="95.39"/>
<use href="#bwb" x="657.33" y="98.79"/>
<use href="#bwb" x="653.66" y="102.19"/>
<use href="#bwb" x="649.99" y="105.58"/>
<use href="#bwb" x="646.32" y="108.98"/>
<use href="#bwb" x="642.65" y="112.38"/>
<use href="#bwb" x="638.98" y="115.78"/>
<use href="#bwb" x="635.31" y="119.17"/>
<use href="#bwb" x="631.65" y="122.57"/>
<use href="#bwb" x="627.98" y="125.97"/>
<use href="#bwb" x="624.31" y="129.37"/>
<use href="#bwb" x="620.64" y="132.76"/>
<use href="#bwb" x="616.97" y="136.16"/>
<use href="#bwb" x="613.3" y="139.56"/>
<use href="#bwb" x="609.64" y="142.96"/>
<use href="#bwb" x="605.97" y="146.35"/>
<use href="#bwb" x="602.3" y="149.75"/>
<use href="#bwb" x="598.63" y="153.15"/>
<use href="#bwb" x="594.96" y="156.54"/>
<use href="#bwb" x="591.29" y="159.94"/>
<use href="#bwb" x="587.62" y="163.34"/>
<use href="#bwb" x="583.96" y="166.74"/>
<use href="#bwb" x="580.29" y="170.13"/>
<use href="#bwb" x="576.62" y="173.53"/>
<use href="#bwb" x="572.95" y="176.93"/>
<use href="#bwb" x="569.28" y="180.33"/>
<use href="#bwb" x="565.61" y="183.72"/>
<use href="#bwb" x="561.94" y="187.12"/>
<use href="#bwb" x="558.28" y="190.52"/>
<use href="#bwb" x="10" y="176"/>
<use href="#bwb" x="15.2" y="177.35"/>
<use href="#bwb" x="20.4" y="178.49"/>
<use href="#bwb" x="25.59" y="176.44"/>
<use href="#bwb" x="30.79" y="177.79"/>
<use href="#bwb" x="35.99" y="178.94"/>
<use href="#bwb" x="41.19" y="176.88"/>
<use href="#bwb" x="46.39" y="178.23"/>
<use href="#bwb" x="51.58" y="179.38"/>
<use href="#bwb" x="56.78" y="177.33"/>
<use href="#bwb" x="61.98" y="178.67"/>
<use href="#bwb" x="67.18" y="179.82"/>
<use href="#bwb" x="72.37" y="177.77"/>
<use href="#bwb" x="77.57" y="179.11"/>
<use href="#bwb" x="82.77" y="180.26"/>
<use href="#bwb" x="87.97" y="178.21"/>
<use href="#bwb" x="93.17" y="179.56"/>
<use href="#bwb" x="98.36" y="180.7"/>
<use href="#bwb" x="103.56" y="178.65"/>
<use href="#bwb" x="108.76" y="180"/>
<use href="#bwb" x="113.96" y="181.15"/>
<use href="#bwb" x="119.16" y="179.09"/>
<use href="#bwb" x="124.35" y="180.44"/>
<use href="#bwb" x="129.55" y="181.59"/>
<use href="#bwb" x="134.75" y="179.53"/>
<use href="#bwb" x="139.95" y="180.88"/>
<use href="#bwb" x="145.15" y="182.03"/>
<use href="#bwb" x="150.34" y="179.98"/>
<use href="#bwb" x="155.54" y="181.32"/>
<use href="#bwb" x="160.74" y="182.47"/>
<use href="#bwb" x="165.94" y="180.42"/>
<use href="#bwb" x="171.14" y="181.77"/>
<use href="#bwb" x="176.33" y="182.91"/>
<use href="#bwb" x="181.53" y="180.86"/>
<use href="#bwb" x="186.73" y="182.21"/>
<use href="#bwb" x="191.93" y="183.36"/>
<use href="#bwb" x="197.12" y="181.3"/>
<use href="#bwb" x="202.32" y="182.65"/>
<use href="#bwb" x="207.52" y="183.8"/>
<use href="#bwb" x="212.72" y="181.74"/>
<use href="#bwb" x="217.92" y="183.09"/>
<use href="#bwb" x="223.11" y="184.24"/>
<use href="#bwb" x="228.31" y="182.19"/>
<use href="#bwb" x="233.51" y="183.53"/>
<use href="#bwb" x="238.71" y="184.68"/>
<use href="#bwb" x="243.91" y="182.63"/>
<use href="#bwb" x="249.1" y="183.98"/>
<use href="#bwb" x="254.3" y="185.12"/>
<use href="#bwb" x="259.5" y="183.07"/>
<use href="#bwb" x="264.7" y="184.42"/>
<use href="#bwb" x="269.9" y="185.56"/>
<use href="#bwb" x="275.09" y="183.51"/>
<use href="#bwb" x="280.29" y="184.86"/>
<use href="#bwb" x="285.49" y="186.01"/>
<use href="#bwb" x="290.69" y="183.95"/>
<use href="#bwb" x="295.89" y="185.3"/>
<use href="#bwb" x="301.08" y="186.45"/>
<use href="#bwb" x="306.28" y="184.4"/>
<use href="#bwb" x="311.48" y="185.74"/>
<use href="#bwb" x="316.68" y="186.89"/>
<use href="#bwb" x="321.87" y="184.84"/>
<use href="#bwb" x="327.07" y="186.18"/>
<use href="#bwb" x="332.27" y="187.33"/>
<use href="#bwb" x="337.47" y="185.28"/>
<use href="#bwb" x="342.67" y="186.63"/>
<use href="#bwb" x="347.86" y="187.77"/>
<use href="#bwb" x="353.06" y="185.72"/>
<use href="#bwb" x="358.26" y="187.07"/>
<use href="#bwb" x="363.46" y="188.22"/>
<use href="#bwb" x="368.66" y="186.16"/>
<use href="#bwb" x="373.85" y="187.51"/>
<use href="#bwb" x="379.05" y="188.66"/>
<use href="#bwb" x="384.25" y="186.6"/>
<use href="#bwb" x="389.45" y="187.95"/>
<use href="#bwb" x="394.65" y="189.1"/>
<use href="#bwb" x="399.84" y="187.05"/>
<use href="#bwb" x="405.04" y="188.39"/>
<use href="#bwb" x="410.24" y="189.54"/>
<use href="#bwb" x="415.44" y="187.49"/>
<use href="#bwb" x="420.64" y="188.84"/>
<use href="#bwb" x="425.83" y="189.98"/>
<use href="#bwb" x="431.03" y="187.93"/>
<use href="#bwb" x="436.23" y="189.28"/>
<use href="#bwb" x="441.43" y="190.43"/>
<use href="#bwb" x="446.62" y="188.37"/>
<use href="#bwb" x="451.82" y="189.72"/>
<use href="#bwb" x="457.02" y="190.87"/>
<use href="#bwb" x="462.22" y="188.81"/>
<use href="#bwb" x="467.42" y="190.16"/>
<use href="#bwb" x="472.61" y="191.31"/>
<use href="#bwb" x="477.81" y="189.26"/>
<use href="#bwb" x="483.01" y="190.6"/>
<use href="#bwb" x="488.21" y="191.75"/>
<use href="#bwb" x="493.41" y="189.7"/>
<use href="#bwb" x="498.6" y="191.05"/>
<use href="#bwb" x="503.8" y="192.19"/>
<use href="#bwb" x="509" y="190.14"/>
<use href="#bwb" x="514.2" y="191.49"/>
<use href="#bwb" x="519.4" y="192.63"/>
<use href="#bwb" x="524.59" y="190.58"/>
<use href="#bwb" x="529.79" y="191.93"/>
<use href="#bwb" x="534.99" y="193.08"/>
<use href="#bwb" x="540.19" y="191.02"/>
<use href="#bwb" x="545.39" y="192.37"/>
<use href="#bwb" x="550.58" y="193.52"/>
<use href="#bwb" x="555.78" y="191.47"/>
<polygon points="135.6,60 672,82 557,188.5 10,173" fill="#9a9a78"/>
<polygon points="135.6,60 672,82 557,188.5 10,173" fill="url(#ptop)"/>
<polygon points="303,94 500,102 454,147 260,135" fill="#2a8aa8"/>
<polygon points="303,94 500,102 454,147 260,135" fill="url(#pdsh)"/>
<use href="#ar" x="11.35" y="175.05"/>
<use href="#ar" x="15.41" y="171.4"/>
<use href="#ar" x="19.46" y="167.76"/>
<use href="#ar" x="23.51" y="164.11"/>
<use href="#ar" x="27.56" y="160.47"/>
<use href="#ar" x="31.61" y="156.82"/>
<use href="#ar" x="35.66" y="153.18"/>
<use href="#ar" x="39.72" y="149.53"/>
<use href="#ar" x="43.77" y="145.89"/>
<use href="#ar" x="47.82" y="142.24"/>
<use href="#ar" x="51.87" y="138.6"/>
<use href="#ar" x="55.92" y="134.95"/>
<use href="#ar" x="59.97" y="131.3"/>
<use href="#ar" x="64.03" y="127.66"/>
<use href="#ar" x="68.08" y="124.01"/>
<use href="#ar" x="72.13" y="120.37"/>
<use href="#ar" x="76.18" y="116.72"/>
<use href="#ar" x="80.23" y="113.08"/>
<use href="#ar" x="84.28" y="109.43"/>
<use href="#ar" x="88.33" y="105.79"/>
<use href="#ar" x="92.39" y="102.14"/>
<use href="#ar" x="96.44" y="98.5"/>
<use href="#ar" x="100.49" y="94.85"/>
<use href="#ar" x="104.54" y="91.21"/>
<use href="#ar" x="108.59" y="87.56"/>
<use href="#ar" x="112.64" y="83.92"/>
<use href="#ar" x="116.7" y="80.27"/>
<use href="#ar" x="120.75" y="76.63"/>
<use href="#ar" x="124.8" y="72.98"/>
<use href="#ar" x="128.85" y="69.34"/>
<use href="#ar" x="132.9" y="65.69"/>
<use href="#au" x="143.42" y="60.32"/>
<use href="#au" x="148.12" y="60.51"/>
<use href="#au" x="161.3" y="61.05"/>
<use href="#au" x="166" y="61.25"/>
<use href="#au" x="179.18" y="61.79"/>
<use href="#au" x="183.88" y="61.98"/>
<use href="#au" x="197.06" y="62.52"/>
<use href="#au" x="201.76" y="62.71"/>
<use href="#au" x="214.94" y="63.25"/>
<use href="#au" x="219.64" y="63.45"/>
<use href="#au" x="232.82" y="63.99"/>
<use href="#au" x="237.52" y="64.18"/>
<use href="#au" x="250.7" y="64.72"/>
<use href="#au" x="255.4" y="64.91"/>
<use href="#au" x="268.58" y="65.45"/>
<use href="#au" x="273.28" y="65.65"/>
<use href="#au" x="286.46" y="66.19"/>
<use href="#au" x="291.16" y="66.38"/>
<use href="#au" x="304.34" y="66.92"/>
<use href="#au" x="309.04" y="67.11"/>
<use href="#au" x="322.22" y="67.65"/>
<use href="#au" x="326.92" y="67.85"/>
<use href="#au" x="340.1" y="68.39"/>
<use href="#au" x="344.8" y="68.58"/>
<use href="#au" x="357.98" y="69.12"/>
<use href="#au" x="362.68" y="69.31"/>
<use href="#au" x="375.86" y="69.85"/>
<use href="#au" x="380.56" y="70.05"/>
<use href="#au" x="393.74" y="70.59"/>
<use href="#au" x="398.44" y="70.78"/>
<use href="#au" x="411.62" y="71.32"/>
<use href="#au" x="416.32" y="71.51"/>
<use href="#au" x="429.5" y="72.05"/>
<use href="#au" x="434.2" y="72.25"/>
<use href="#au" x="447.38" y="72.79"/>
<use href="#au" x="452.08" y="72.98"/>
<use href="#au" x="465.26" y="73.52"/>
<use href="#au" x="469.96" y="73.71"/>
<use href="#au" x="483.14" y="74.25"/>
<use href="#au" x="487.84" y="74.45"/>
<use href="#au" x="501.02" y="74.99"/>
<use href="#au" x="505.72" y="75.18"/>
<use href="#au" x="518.9" y="75.72"/>
<use href="#au" x="523.6" y="75.91"/>
<use href="#au" x="536.78" y="76.45"/>
<use href="#au" x="541.48" y="76.65"/>
<use href="#au" x="554.66" y="77.19"/>
<use href="#au" x="559.36" y="77.38"/>
<use href="#au" x="572.54" y="77.92"/>
<use href="#au" x="577.24" y="78.11"/>
<use href="#au" x="590.42" y="78.65"/>
<use href="#au" x="595.12" y="78.85"/>
<use href="#au" x="608.3" y="79.39"/>
<use href="#au" x="613" y="79.58"/>
<use href="#au" x="626.18" y="80.12"/>
<use href="#au" x="630.88" y="80.31"/>
<use href="#au" x="644.06" y="80.85"/>
<use href="#au" x="648.76" y="81.05"/>
<use href="#au" x="661.94" y="81.59"/>
<use href="#au" x="666.64" y="81.78"/>
<use href="#ar" x="136.94" y="62.05"/>
<use href="#ar" x="154.82" y="62.79"/>
<use href="#ar" x="172.7" y="63.52"/>
<use href="#ar" x="190.58" y="64.25"/>
<use href="#ar" x="208.46" y="64.99"/>
<use href="#ar" x="226.34" y="65.72"/>
<use href="#ar" x="244.22" y="66.45"/>
<use href="#ar" x="262.1" y="67.19"/>
<use href="#ar" x="279.98" y="67.92"/>
<use href="#ar" x="297.86" y="68.66"/>
<use href="#ar" x="315.74" y="69.39"/>
<use href="#ar" x="333.62" y="70.12"/>
<use href="#ar" x="351.5" y="70.86"/>
<use href="#ar" x="369.38" y="71.59"/>
<use href="#ar" x="387.26" y="72.32"/>
<use href="#ar" x="405.14" y="73.05"/>
<use href="#ar" x="423.02" y="73.79"/>
<use href="#ar" x="440.9" y="74.52"/>
<use href="#ar" x="458.78" y="75.25"/>
<use href="#ar" x="476.66" y="75.99"/>
<use href="#ar" x="494.54" y="76.72"/>
<use href="#ar" x="512.42" y="77.45"/>
<use href="#ar" x="530.3" y="78.19"/>
<use href="#ar" x="548.18" y="78.92"/>
<use href="#ar" x="566.06" y="79.66"/>
<use href="#ar" x="583.94" y="80.39"/>
<use href="#ar" x="601.82" y="81.12"/>
<use href="#ar" x="619.7" y="81.85"/>
<use href="#ar" x="637.58" y="82.59"/>
<use href="#ar" x="655.46" y="83.32"/>
<polygon points="303,94 500,102 454,147 260,135" fill="none" stroke="#000" stroke-width="2.2" stroke-dasharray="7 4"/>
<defs>
<linearGradient id="gred" x1="0" x2="1" y1="0" y2="0"><stop offset="0" stop-color="#e01212"/><stop offset="0.32" stop-color="#f42a2a"/><stop offset="0.5" stop-color="#ffc4c4"/><stop offset="0.68" stop-color="#f42a2a"/><stop offset="1" stop-color="#e01212"/></linearGradient>
<linearGradient id="gteal" x1="0" x2="1" y1="0" y2="0"><stop offset="0" stop-color="#08807a"/><stop offset="0.3" stop-color="#12a8a0"/><stop offset="0.5" stop-color="#70fff6"/><stop offset="0.7" stop-color="#12a8a0"/><stop offset="1" stop-color="#08807a"/></linearGradient>
<radialGradient id="ggray" cx="0.38" cy="0.35" r="0.7"><stop offset="0" stop-color="#ffffff"/><stop offset="0.4" stop-color="#d8d8d8"/><stop offset="1" stop-color="#8a8a8a"/></radialGradient>
<radialGradient id="ggrn" cx="0.4" cy="0.35" r="0.7"><stop offset="0" stop-color="#80ff80"/><stop offset="0.4" stop-color="#10d010"/><stop offset="1" stop-color="#0a8a0a"/></radialGradient>
<radialGradient id="gau2" cx="0.5" cy="0.55" r="0.55"><stop offset="0" stop-color="#ffffff"/><stop offset="0.25" stop-color="#ffec70"/><stop offset="0.7" stop-color="#ecc028"/><stop offset="1" stop-color="#c09010"/></radialGradient>
<radialGradient id="gbl2" cx="0.5" cy="0.55" r="0.55"><stop offset="0" stop-color="#ffffff"/><stop offset="0.25" stop-color="#50d0ff"/><stop offset="0.7" stop-color="#1696dc"/><stop offset="1" stop-color="#0a5ca0"/></radialGradient>
</defs>
<text x="3.4" y="10.2" font-size="17.5" font-weight="bold" fill="#111">a</text>
<rect x="11.4" y="68" width="3.5" height="32" fill="#1414dc"/>
<path d="M6.4 69.5 L13.1 52 L19.8 69.5Z" fill="#1414dc"/>
<path d="M17 103.2 L46.5 104.2 L46.3 100.9 L64.2 108 L46.3 114.2 L46.4 108.9 L17 108.2Z" fill="#e41a1a"/>
<circle cx="26.4" cy="98.6" r="6" fill="url(#ggrn)"/>
<path d="M19 103 L27 97.5 L28.5 100 L20 105Z" fill="#0a6a0a"/>
<circle cx="13.1" cy="105.5" r="6.2" fill="url(#ggray)"/>
<text x="12.9" y="49.3" text-anchor="middle" font-size="13.5" fill="#111">c</text>
<text x="32.6" y="94" font-size="13.5" fill="#111">b</text>
<text x="62" y="104.8" font-size="13.5" fill="#111">a</text>
<rect x="306.4" y="16.5" width="5.9" height="41.2" fill="url(#gred)"/>
<path d="M303.9 17 L309.35 10.6 L314.8 17Z" fill="#e01a1a"/>
<text x="277.5" y="40.3" font-size="13" fill="#4a72c4">+P<tspan font-size="9" dy="3">z</tspan></text>
<rect x="483" y="10.8" width="5.1" height="42.6" fill="url(#gteal)"/>
<path d="M480 53 L485.55 59.2 L491.1 53Z" fill="#0a7e78"/>
<text x="459.6" y="40.3" font-size="13" fill="#4a72c4">-P<tspan font-size="9" dy="3">z</tspan></text>
<line x1="271.5" y1="122.6" x2="145" y2="255.2" stroke="#000" stroke-width="1.5"/>
<line x1="262.8" y1="135" x2="181.6" y2="255.2" stroke="#000" stroke-width="1.5"/>
<line x1="359.5" y1="152" x2="351.3" y2="254.3" stroke="#000" stroke-width="1.5"/>
<line x1="359.5" y1="152" x2="383.5" y2="254.3" stroke="#000" stroke-width="1.5"/>
<line x1="483" y1="133" x2="493.5" y2="252.2" stroke="#000" stroke-width="1.5"/>
<line x1="483" y1="133" x2="528.2" y2="252.2" stroke="#000" stroke-width="1.5"/>
<path d="M280.3 103.3 Q282 103.3 290 111.5 Q291.6 113.1 290 114.7 Q282 123 280.3 123 Q278.6 123 270.6 114.7 Q269 113.1 270.6 111.5 Q278.6 103.3 280.3 103.3Z" fill="#4f7fd0" fill-opacity="0.9"/>
<text x="280.3" y="118.3" text-anchor="middle" font-family="Liberation Serif, serif" font-size="14" fill="#000">i</text>
<rect x="343.6" y="135" width="33" height="15.3" rx="2" fill="#4f7fd0" fill-opacity="0.92"/>
<text x="360.1" y="147.6" text-anchor="middle" font-family="Liberation Serif, serif" font-size="14" fill="#000">ii</text>
<path d="M476 114 Q477.6 114 485.5 122.6 Q487 124.2 485.5 125.8 Q477.6 134.6 476 134.6 Q474.4 134.6 466.5 125.8 Q465 124.2 466.5 122.6 Q474.4 114 476 114Z" fill="#4f7fd0" fill-opacity="0.9"/>
<text x="476.2" y="129.4" text-anchor="middle" font-family="Liberation Serif, serif" font-size="14" fill="#000">iii</text>
<clipPath id="ci"><rect x="60.8" y="255.8" width="145" height="90.5" rx="14"/></clipPath>
<g clip-path="url(#ci)">
<line x1="67.2" y1="285.9" x2="58.5" y2="277" stroke="#e8c84a" stroke-width="1.6"/>
<line x1="67.2" y1="285.9" x2="62.85" y2="281.45" stroke="#38a8e0" stroke-width="0.9"/>
<line x1="67.2" y1="285.9" x2="76.5" y2="273.4" stroke="#e8c84a" stroke-width="1.6"/>
<line x1="67.2" y1="285.9" x2="71.85" y2="279.65" stroke="#38a8e0" stroke-width="0.9"/>
<line x1="67.2" y1="285.9" x2="71" y2="298.1" stroke="#e8c84a" stroke-width="1.6"/>
<line x1="67.2" y1="285.9" x2="69.1" y2="292" stroke="#38a8e0" stroke-width="0.9"/>
<line x1="80" y1="285.3" x2="76.5" y2="273.4" stroke="#e8c84a" stroke-width="1.6"/>
<line x1="80" y1="285.3" x2="78.25" y2="279.35" stroke="#38a8e0" stroke-width="0.9"/>
<line x1="80" y1="285.3" x2="71" y2="298.1" stroke="#e8c84a" stroke-width="1.6"/>
<line x1="80" y1="285.3" x2="75.5" y2="291.7" stroke="#38a8e0" stroke-width="0.9"/>
<line x1="80" y1="285.3" x2="88.4" y2="294.3" stroke="#e8c84a" stroke-width="1.6"/>
<line x1="80" y1="285.3" x2="84.2" y2="289.8" stroke="#38a8e0" stroke-width="0.9"/>
<line x1="103.1" y1="285.9" x2="94.2" y2="277" stroke="#e8c84a" stroke-width="1.6"/>
<line x1="103.1" y1="285.9" x2="98.65" y2="281.45" stroke="#38a8e0" stroke-width="0.9"/>
<line x1="103.1" y1="285.9" x2="112.1" y2="273.7" stroke="#e8c84a" stroke-width="1.6"/>
<line x1="103.1" y1="285.9" x2="107.6" y2="279.8" stroke="#38a8e0" stroke-width="0.9"/>
<line x1="103.1" y1="285.9" x2="106.3" y2="297.8" stroke="#e8c84a" stroke-width="1.6"/>
<line x1="103.1" y1="285.9" x2="104.7" y2="291.85" stroke="#38a8e0" stroke-width="0.9"/>
<line x1="115.3" y1="285.3" x2="112.1" y2="273.7" stroke="#e8c84a" stroke-width="1.6"/>
<line x1="115.3" y1="285.3" x2="113.7" y2="279.5" stroke="#38a8e0" stroke-width="0.9"/>
<line x1="115.3" y1="285.3" x2="106.3" y2="297.8" stroke="#e8c84a" stroke-width="1.6"/>
<line x1="115.3" y1="285.3" x2="110.8" y2="291.55" stroke="#38a8e0" stroke-width="0.9"/>
<line x1="145.1" y1="285.9" x2="135.8" y2="277" stroke="#e8c84a" stroke-width="1.6"/>
<line x1="145.1" y1="285.9" x2="140.45" y2="281.45" stroke="#38a8e0" stroke-width="0.9"/>
<line x1="145.1" y1="285.9" x2="153.9" y2="273.4" stroke="#e8c84a" stroke-width="1.6"/>
<line x1="145.1" y1="285.9" x2="149.5" y2="279.65" stroke="#38a8e0" stroke-width="0.9"/>
<line x1="145.1" y1="285.9" x2="148" y2="297.8" stroke="#e8c84a" stroke-width="1.6"/>
<line x1="145.1" y1="285.9" x2="146.55" y2="291.85" stroke="#38a8e0" stroke-width="0.9"/>
<line x1="158.2" y1="285.3" x2="153.9" y2="273.4" stroke="#e8c84a" stroke-width="1.6"/>
<line x1="158.2" y1="285.3" x2="156.05" y2="279.35" stroke="#38a8e0" stroke-width="0.9"/>
<line x1="158.2" y1="285.3" x2="148" y2="297.8" stroke="#e8c84a" stroke-width="1.6"/>
<line x1="158.2" y1="285.3" x2="153.1" y2="291.55" stroke="#38a8e0" stroke-width="0.9"/>
<line x1="158.2" y1="285.3" x2="167" y2="294.3" stroke="#e8c84a" stroke-width="1.6"/>
<line x1="158.2" y1="285.3" x2="162.6" y2="289.8" stroke="#38a8e0" stroke-width="0.9"/>
<line x1="181.6" y1="285.9" x2="172.8" y2="277" stroke="#e8c84a" stroke-width="1.6"/>
<line x1="181.6" y1="285.9" x2="177.2" y2="281.45" stroke="#38a8e0" stroke-width="0.9"/>
<line x1="181.6" y1="285.9" x2="190.4" y2="273.4" stroke="#e8c84a" stroke-width="1.6"/>
<line x1="181.6" y1="285.9" x2="186" y2="279.65" stroke="#38a8e0" stroke-width="0.9"/>
<line x1="181.6" y1="285.9" x2="184.5" y2="297.8" stroke="#e8c84a" stroke-width="1.6"/>
<line x1="181.6" y1="285.9" x2="183.05" y2="291.85" stroke="#38a8e0" stroke-width="0.9"/>
<line x1="193.9" y1="285.3" x2="190.4" y2="273.4" stroke="#e8c84a" stroke-width="1.6"/>
<line x1="193.9" y1="285.3" x2="192.15" y2="279.35" stroke="#38a8e0" stroke-width="0.9"/>
<line x1="193.9" y1="285.3" x2="184.5" y2="297.8" stroke="#e8c84a" stroke-width="1.6"/>
<line x1="193.9" y1="285.3" x2="189.2" y2="291.55" stroke="#38a8e0" stroke-width="0.9"/>
<line x1="193.9" y1="285.3" x2="200.6" y2="294.3" stroke="#e8c84a" stroke-width="1.6"/>
<line x1="193.9" y1="285.3" x2="197.25" y2="289.8" stroke="#38a8e0" stroke-width="0.9"/>
<circle cx="58.5" cy="277" r="4.2" fill="url(#gau2)"/>
<circle cx="76.5" cy="273.4" r="4.2" fill="url(#gau2)"/>
<circle cx="94.2" cy="277" r="4.2" fill="url(#gau2)"/>
<circle cx="112.1" cy="273.7" r="4.2" fill="url(#gau2)"/>
<circle cx="135.8" cy="277" r="4.2" fill="url(#gau2)"/>
<circle cx="153.9" cy="273.4" r="4.2" fill="url(#gau2)"/>
<circle cx="172.8" cy="277" r="4.2" fill="url(#gau2)"/>
<circle cx="190.4" cy="273.4" r="4.2" fill="url(#gau2)"/>
<circle cx="67.2" cy="285.9" r="5.5" fill="url(#gbl2)"/>
<circle cx="80" cy="285.3" r="5.5" fill="url(#gbl2)"/>
<circle cx="103.1" cy="285.9" r="5.5" fill="url(#gbl2)"/>
<circle cx="115.3" cy="285.3" r="5.5" fill="url(#gbl2)"/>
<circle cx="145.1" cy="285.9" r="5.5" fill="url(#gbl2)"/>
<circle cx="158.2" cy="285.3" r="5.5" fill="url(#gbl2)"/>
<circle cx="181.6" cy="285.9" r="5.5" fill="url(#gbl2)"/>
<circle cx="193.9" cy="285.3" r="5.5" fill="url(#gbl2)"/>
<circle cx="71" cy="298.1" r="4.2" fill="url(#gau2)"/>
<circle cx="88.4" cy="294.3" r="4.2" fill="url(#gau2)"/>
<circle cx="106.3" cy="297.8" r="4.2" fill="url(#gau2)"/>
<circle cx="130.7" cy="294.3" r="4.2" fill="url(#gau2)"/>
<circle cx="148" cy="297.8" r="4.2" fill="url(#gau2)"/>
<circle cx="167" cy="294.3" r="4.2" fill="url(#gau2)"/>
<circle cx="184.5" cy="297.8" r="4.2" fill="url(#gau2)"/>
<circle cx="200.6" cy="294.3" r="4.2" fill="url(#gau2)"/>
<line x1="65.9" y1="325.1" x2="56.5" y2="312.9" stroke="#e8c84a" stroke-width="1.6"/>
<line x1="65.9" y1="325.1" x2="61.2" y2="319" stroke="#38a8e0" stroke-width="0.9"/>
<line x1="65.9" y1="325.1" x2="74.3" y2="316.1" stroke="#e8c84a" stroke-width="1.6"/>
<line x1="65.9" y1="325.1" x2="70.1" y2="320.6" stroke="#38a8e0" stroke-width="0.9"/>
<line x1="65.9" y1="325.1" x2="62.1" y2="336.3" stroke="#e8c84a" stroke-width="1.6"/>
<line x1="65.9" y1="325.1" x2="64" y2="330.7" stroke="#38a8e0" stroke-width="0.9"/>
<line x1="88.4" y1="324.5" x2="92.2" y2="312.9" stroke="#e8c84a" stroke-width="1.6"/>
<line x1="88.4" y1="324.5" x2="90.3" y2="318.7" stroke="#38a8e0" stroke-width="0.9"/>
<line x1="88.4" y1="324.5" x2="79.4" y2="332.8" stroke="#e8c84a" stroke-width="1.6"/>
<line x1="88.4" y1="324.5" x2="83.9" y2="328.65" stroke="#38a8e0" stroke-width="0.9"/>
<line x1="88.4" y1="324.5" x2="97.4" y2="336.3" stroke="#e8c84a" stroke-width="1.6"/>
<line x1="88.4" y1="324.5" x2="92.9" y2="330.4" stroke="#38a8e0" stroke-width="0.9"/>
<line x1="101.2" y1="325.1" x2="92.2" y2="312.9" stroke="#e8c84a" stroke-width="1.6"/>
<line x1="101.2" y1="325.1" x2="96.7" y2="319" stroke="#38a8e0" stroke-width="0.9"/>
<line x1="101.2" y1="325.1" x2="110.2" y2="316.1" stroke="#e8c84a" stroke-width="1.6"/>
<line x1="101.2" y1="325.1" x2="105.7" y2="320.6" stroke="#38a8e0" stroke-width="0.9"/>
<line x1="101.2" y1="325.1" x2="97.4" y2="336.3" stroke="#e8c84a" stroke-width="1.6"/>
<line x1="101.2" y1="325.1" x2="99.3" y2="330.7" stroke="#38a8e0" stroke-width="0.9"/>
<line x1="124.3" y1="324.2" x2="127.5" y2="312.9" stroke="#e8c84a" stroke-width="1.6"/>
<line x1="124.3" y1="324.2" x2="125.9" y2="318.55" stroke="#38a8e0" stroke-width="0.9"/>
<line x1="124.3" y1="324.2" x2="115.3" y2="332.8" stroke="#e8c84a" stroke-width="1.6"/>
<line x1="124.3" y1="324.2" x2="119.8" y2="328.5" stroke="#38a8e0" stroke-width="0.9"/>
<line x1="124.3" y1="324.2" x2="133.4" y2="336.3" stroke="#e8c84a" stroke-width="1.6"/>
<line x1="124.3" y1="324.2" x2="128.85" y2="330.25" stroke="#38a8e0" stroke-width="0.9"/>
<line x1="137.2" y1="325.1" x2="127.5" y2="312.9" stroke="#e8c84a" stroke-width="1.6"/>
<line x1="137.2" y1="325.1" x2="132.35" y2="319" stroke="#38a8e0" stroke-width="0.9"/>
<line x1="137.2" y1="325.1" x2="146.6" y2="316.1" stroke="#e8c84a" stroke-width="1.6"/>
<line x1="137.2" y1="325.1" x2="141.9" y2="320.6" stroke="#38a8e0" stroke-width="0.9"/>
<line x1="137.2" y1="325.1" x2="133.4" y2="336.3" stroke="#e8c84a" stroke-width="1.6"/>
<line x1="137.2" y1="325.1" x2="135.3" y2="330.7" stroke="#38a8e0" stroke-width="0.9"/>
<line x1="159.7" y1="324.5" x2="164" y2="312.9" stroke="#e8c84a" stroke-width="1.6"/>
<line x1="159.7" y1="324.5" x2="161.85" y2="318.7" stroke="#38a8e0" stroke-width="0.9"/>
<line x1="159.7" y1="324.5" x2="151" y2="332.8" stroke="#e8c84a" stroke-width="1.6"/>
<line x1="159.7" y1="324.5" x2="155.35" y2="328.65" stroke="#38a8e0" stroke-width="0.9"/>
<line x1="159.7" y1="324.5" x2="170" y2="336.3" stroke="#e8c84a" stroke-width="1.6"/>
<line x1="159.7" y1="324.5" x2="164.85" y2="330.4" stroke="#38a8e0" stroke-width="0.9"/>
<line x1="172.8" y1="325.1" x2="164" y2="312.9" stroke="#e8c84a" stroke-width="1.6"/>
<line x1="172.8" y1="325.1" x2="168.4" y2="319" stroke="#38a8e0" stroke-width="0.9"/>
<line x1="172.8" y1="325.1" x2="181.6" y2="316.1" stroke="#e8c84a" stroke-width="1.6"/>
<line x1="172.8" y1="325.1" x2="177.2" y2="320.6" stroke="#38a8e0" stroke-width="0.9"/>
<line x1="172.8" y1="325.1" x2="170" y2="336.3" stroke="#e8c84a" stroke-width="1.6"/>
<line x1="172.8" y1="325.1" x2="171.4" y2="330.7" stroke="#38a8e0" stroke-width="0.9"/>
<line x1="196.2" y1="324.5" x2="199" y2="312.9" stroke="#e8c84a" stroke-width="1.6"/>
<line x1="196.2" y1="324.5" x2="197.6" y2="318.7" stroke="#38a8e0" stroke-width="0.9"/>
<line x1="196.2" y1="324.5" x2="187.4" y2="332.8" stroke="#e8c84a" stroke-width="1.6"/>
<line x1="196.2" y1="324.5" x2="191.8" y2="328.65" stroke="#38a8e0" stroke-width="0.9"/>
<line x1="196.2" y1="324.5" x2="205" y2="336.3" stroke="#e8c84a" stroke-width="1.6"/>
<line x1="196.2" y1="324.5" x2="200.6" y2="330.4" stroke="#38a8e0" stroke-width="0.9"/>
<circle cx="56.5" cy="312.9" r="4.2" fill="url(#gau2)"/>
<circle cx="74.3" cy="316.1" r="4.2" fill="url(#gau2)"/>
<circle cx="92.2" cy="312.9" r="4.2" fill="url(#gau2)"/>
<circle cx="110.2" cy="316.1" r="4.2" fill="url(#gau2)"/>
<circle cx="127.5" cy="312.9" r="4.2" fill="url(#gau2)"/>
<circle cx="146.6" cy="316.1" r="4.2" fill="url(#gau2)"/>
<circle cx="164" cy="312.9" r="4.2" fill="url(#gau2)"/>
<circle cx="181.6" cy="316.1" r="4.2" fill="url(#gau2)"/>
<circle cx="199" cy="312.9" r="4.2" fill="url(#gau2)"/>
<circle cx="65.9" cy="325.1" r="5.5" fill="url(#gbl2)"/>
<circle cx="88.4" cy="324.5" r="5.5" fill="url(#gbl2)"/>
<circle cx="101.2" cy="325.1" r="5.5" fill="url(#gbl2)"/>
<circle cx="124.3" cy="324.2" r="5.5" fill="url(#gbl2)"/>
<circle cx="137.2" cy="325.1" r="5.5" fill="url(#gbl2)"/>
<circle cx="159.7" cy="324.5" r="5.5" fill="url(#gbl2)"/>
<circle cx="172.8" cy="325.1" r="5.5" fill="url(#gbl2)"/>
<circle cx="196.2" cy="324.5" r="5.5" fill="url(#gbl2)"/>
<circle cx="62.1" cy="336.3" r="4.2" fill="url(#gau2)"/>
<circle cx="79.4" cy="332.8" r="4.2" fill="url(#gau2)"/>
<circle cx="97.4" cy="336.3" r="4.2" fill="url(#gau2)"/>
<circle cx="115.3" cy="332.8" r="4.2" fill="url(#gau2)"/>
<circle cx="133.4" cy="336.3" r="4.2" fill="url(#gau2)"/>
<circle cx="151" cy="332.8" r="4.2" fill="url(#gau2)"/>
<circle cx="170" cy="336.3" r="4.2" fill="url(#gau2)"/>
<circle cx="187.4" cy="332.8" r="4.2" fill="url(#gau2)"/>
<circle cx="205" cy="336.3" r="4.2" fill="url(#gau2)"/>
</g>
<path d="M92.2 320.6 L92.2 291.7 L89 291.7 L96.1 284 L103.6 291.7 L100.4 291.7 L100.4 320.6Z" fill="#f22a2a" fill-opacity="0.82"/>
<path d="M164.1 285.5 L164.1 308.8 L161.2 308.8 L168.5 320.5 L175.8 308.8 L172.8 308.8 L172.8 285.5Z" fill="#14705e" fill-opacity="0.85"/>
<line x1="132.8" y1="255.5" x2="132.8" y2="347" stroke="#000" stroke-width="1.2" stroke-dasharray="3 2"/>
<path d="M181.6 255.2 L191.4 255.2 Q206.4 255.2 206.4 270.2 L206.4 331.9 Q206.4 346.9 191.4 346.9 L75.3 346.9 Q60.3 346.9 60.3 331.9 L60.3 270.2 Q60.3 255.2 75.3 255.2 L145 255.2" fill="none" stroke="#000" stroke-width="1.6"/>
<text x="65.6" y="272.1" font-family="Liberation Serif, serif" font-size="19.5" fill="#000">i</text>
<path d="M54 317 L54 352.6 L87.5 352.6" fill="none" stroke="#000" stroke-width="1.4"/>
<path d="M50.8 322.5 L54 316 L57.2 322.5 L54 320.5 Z" fill="#000"/>
<path d="M82 349.4 L88.5 352.6 L82 355.8 L84 352.6 Z" fill="#000"/>
<text x="53.2" y="312.5" text-anchor="middle" font-size="14" fill="#111">c</text>
<text x="94.3" y="357.5" text-anchor="middle" font-size="14" fill="#111">a</text>
<clipPath id="cii"><rect x="276.3" y="254.9" width="128.6" height="95.9"/></clipPath>
<g clip-path="url(#cii)">
<line x1="261.3" y1="260.2" x2="282.5" y2="260.2" stroke="#2a94d8" stroke-width="1.8"/>
<line x1="261.3" y1="260.2" x2="271.9" y2="260.2" stroke="#e0b838" stroke-width="1.8"/>
<line x1="261.3" y1="260.2" x2="271.9" y2="276.8" stroke="#2a94d8" stroke-width="1.8"/>
<line x1="261.3" y1="260.2" x2="266.6" y2="268.5" stroke="#e0b838" stroke-width="1.8"/>
<line x1="282.5" y1="260.2" x2="303.7" y2="260.2" stroke="#2a94d8" stroke-width="1.8"/>
<line x1="282.5" y1="260.2" x2="293.1" y2="276.8" stroke="#2a94d8" stroke-width="1.8"/>
<line x1="293.1" y1="276.8" x2="287.8" y2="268.5" stroke="#e0b838" stroke-width="1.8"/>
<line x1="303.7" y1="260.2" x2="324.9" y2="260.2" stroke="#2a94d8" stroke-width="1.8"/>
<line x1="324.9" y1="260.2" x2="314.3" y2="260.2" stroke="#e0b838" stroke-width="1.8"/>
<line x1="303.7" y1="260.2" x2="314.3" y2="276.8" stroke="#2a94d8" stroke-width="1.8"/>
<line x1="314.3" y1="276.8" x2="309" y2="268.5" stroke="#e0b838" stroke-width="1.8"/>
<line x1="324.9" y1="260.2" x2="346.1" y2="260.2" stroke="#2a94d8" stroke-width="1.8"/>
<line x1="324.9" y1="260.2" x2="335.5" y2="260.2" stroke="#e0b838" stroke-width="1.8"/>
<line x1="324.9" y1="260.2" x2="335.5" y2="276.8" stroke="#2a94d8" stroke-width="1.8"/>
<line x1="324.9" y1="260.2" x2="330.2" y2="268.5" stroke="#e0b838" stroke-width="1.8"/>
<line x1="346.1" y1="260.2" x2="367.3" y2="260.2" stroke="#2a94d8" stroke-width="1.8"/>
<line x1="346.1" y1="260.2" x2="356.7" y2="260.2" stroke="#e0b838" stroke-width="1.8"/>
<line x1="346.1" y1="260.2" x2="356.7" y2="276.8" stroke="#2a94d8" stroke-width="1.8"/>
<line x1="346.1" y1="260.2" x2="351.4" y2="268.5" stroke="#e0b838" stroke-width="1.8"/>
<line x1="367.3" y1="260.2" x2="388.5" y2="260.2" stroke="#2a94d8" stroke-width="1.8"/>
<line x1="367.3" y1="260.2" x2="377.9" y2="276.8" stroke="#2a94d8" stroke-width="1.8"/>
<line x1="377.9" y1="276.8" x2="372.6" y2="268.5" stroke="#e0b838" stroke-width="1.8"/>
<line x1="388.5" y1="260.2" x2="409.7" y2="260.2" stroke="#2a94d8" stroke-width="1.8"/>
<line x1="409.7" y1="260.2" x2="399.1" y2="260.2" stroke="#e0b838" stroke-width="1.8"/>
<line x1="388.5" y1="260.2" x2="399.1" y2="276.8" stroke="#2a94d8" stroke-width="1.8"/>
<line x1="409.7" y1="260.2" x2="430.9" y2="260.2" stroke="#2a94d8" stroke-width="1.8"/>
<line x1="409.7" y1="260.2" x2="420.3" y2="260.2" stroke="#e0b838" stroke-width="1.8"/>
<line x1="409.7" y1="260.2" x2="420.3" y2="276.8" stroke="#2a94d8" stroke-width="1.8"/>
<line x1="409.7" y1="260.2" x2="415" y2="268.5" stroke="#e0b838" stroke-width="1.8"/>
<line x1="250.7" y1="276.8" x2="261.3" y2="260.2" stroke="#2a94d8" stroke-width="1.8"/>
<line x1="261.3" y1="260.2" x2="256" y2="268.5" stroke="#e0b838" stroke-width="1.8"/>
<line x1="250.7" y1="276.8" x2="271.9" y2="276.8" stroke="#2a94d8" stroke-width="1.8"/>
<line x1="250.7" y1="276.8" x2="261.3" y2="293.4" stroke="#2a94d8" stroke-width="1.8"/>
<line x1="271.9" y1="276.8" x2="282.5" y2="260.2" stroke="#2a94d8" stroke-width="1.8"/>
<line x1="271.9" y1="276.8" x2="293.1" y2="276.8" stroke="#2a94d8" stroke-width="1.8"/>
<line x1="293.1" y1="276.8" x2="282.5" y2="276.8" stroke="#e0b838" stroke-width="1.8"/>
<line x1="271.9" y1="276.8" x2="282.5" y2="293.4" stroke="#2a94d8" stroke-width="1.8"/>
<line x1="282.5" y1="293.4" x2="277.2" y2="285.1" stroke="#e0b838" stroke-width="1.8"/>
<line x1="293.1" y1="276.8" x2="303.7" y2="260.2" stroke="#2a94d8" stroke-width="1.8"/>
<line x1="293.1" y1="276.8" x2="298.4" y2="268.5" stroke="#e0b838" stroke-width="1.8"/>
<line x1="293.1" y1="276.8" x2="314.3" y2="276.8" stroke="#2a94d8" stroke-width="1.8"/>
<line x1="293.1" y1="276.8" x2="303.7" y2="276.8" stroke="#e0b838" stroke-width="1.8"/>
<line x1="293.1" y1="276.8" x2="303.7" y2="293.4" stroke="#2a94d8" stroke-width="1.8"/>
<line x1="293.1" y1="276.8" x2="298.4" y2="285.1" stroke="#e0b838" stroke-width="1.8"/>
<line x1="314.3" y1="276.8" x2="324.9" y2="260.2" stroke="#2a94d8" stroke-width="1.8"/>
<line x1="314.3" y1="276.8" x2="319.6" y2="268.5" stroke="#e0b838" stroke-width="1.8"/>
<line x1="314.3" y1="276.8" x2="335.5" y2="276.8" stroke="#2a94d8" stroke-width="1.8"/>
<line x1="314.3" y1="276.8" x2="324.9" y2="276.8" stroke="#e0b838" stroke-width="1.8"/>
<line x1="314.3" y1="276.8" x2="324.9" y2="293.4" stroke="#2a94d8" stroke-width="1.8"/>
<line x1="314.3" y1="276.8" x2="319.6" y2="285.1" stroke="#e0b838" stroke-width="1.8"/>
<line x1="335.5" y1="276.8" x2="346.1" y2="260.2" stroke="#2a94d8" stroke-width="1.8"/>
<line x1="346.1" y1="260.2" x2="340.8" y2="268.5" stroke="#e0b838" stroke-width="1.8"/>
<line x1="335.5" y1="276.8" x2="356.7" y2="276.8" stroke="#2a94d8" stroke-width="1.8"/>
<line x1="335.5" y1="276.8" x2="346.1" y2="293.4" stroke="#2a94d8" stroke-width="1.8"/>
<line x1="356.7" y1="276.8" x2="367.3" y2="260.2" stroke="#2a94d8" stroke-width="1.8"/>
<line x1="356.7" y1="276.8" x2="377.9" y2="276.8" stroke="#2a94d8" stroke-width="1.8"/>
<line x1="377.9" y1="276.8" x2="367.3" y2="276.8" stroke="#e0b838" stroke-width="1.8"/>
<line x1="356.7" y1="276.8" x2="367.3" y2="293.4" stroke="#2a94d8" stroke-width="1.8"/>
<line x1="367.3" y1="293.4" x2="362" y2="285.1" stroke="#e0b838" stroke-width="1.8"/>
<line x1="377.9" y1="276.8" x2="388.5" y2="260.2" stroke="#2a94d8" stroke-width="1.8"/>
<line x1="377.9" y1="276.8" x2="383.2" y2="268.5" stroke="#e0b838" stroke-width="1.8"/>
<line x1="377.9" y1="276.8" x2="399.1" y2="276.8" stroke="#2a94d8" stroke-width="1.8"/>
<line x1="377.9" y1="276.8" x2="388.5" y2="276.8" stroke="#e0b838" stroke-width="1.8"/>
<line x1="377.9" y1="276.8" x2="388.5" y2="293.4" stroke="#2a94d8" stroke-width="1.8"/>
<line x1="377.9" y1="276.8" x2="383.2" y2="285.1" stroke="#e0b838" stroke-width="1.8"/>
<line x1="399.1" y1="276.8" x2="409.7" y2="260.2" stroke="#2a94d8" stroke-width="1.8"/>
<line x1="409.7" y1="260.2" x2="404.4" y2="268.5" stroke="#e0b838" stroke-width="1.8"/>
<line x1="399.1" y1="276.8" x2="420.3" y2="276.8" stroke="#2a94d8" stroke-width="1.8"/>
<line x1="420.3" y1="276.8" x2="409.7" y2="276.8" stroke="#e0b838" stroke-width="1.8"/>
<line x1="399.1" y1="276.8" x2="409.7" y2="293.4" stroke="#2a94d8" stroke-width="1.8"/>
<line x1="409.7" y1="293.4" x2="404.4" y2="285.1" stroke="#e0b838" stroke-width="1.8"/>
<line x1="420.3" y1="276.8" x2="430.9" y2="260.2" stroke="#2a94d8" stroke-width="1.8"/>
<line x1="420.3" y1="276.8" x2="425.6" y2="268.5" stroke="#e0b838" stroke-width="1.8"/>
<line x1="420.3" y1="276.8" x2="430.9" y2="293.4" stroke="#2a94d8" stroke-width="1.8"/>
<line x1="420.3" y1="276.8" x2="425.6" y2="285.1" stroke="#e0b838" stroke-width="1.8"/>
<line x1="261.3" y1="293.4" x2="271.9" y2="276.8" stroke="#2a94d8" stroke-width="1.8"/>
<line x1="261.3" y1="293.4" x2="282.5" y2="293.4" stroke="#2a94d8" stroke-width="1.8"/>
<line x1="282.5" y1="293.4" x2="271.9" y2="293.4" stroke="#e0b838" stroke-width="1.8"/>
<line x1="261.3" y1="293.4" x2="271.9" y2="310.3" stroke="#2a94d8" stroke-width="1.8"/>
<line x1="271.9" y1="310.3" x2="266.6" y2="301.85" stroke="#e0b838" stroke-width="1.8"/>
<line x1="282.5" y1="293.4" x2="293.1" y2="276.8" stroke="#2a94d8" stroke-width="1.8"/>
<line x1="282.5" y1="293.4" x2="287.8" y2="285.1" stroke="#e0b838" stroke-width="1.8"/>
<line x1="282.5" y1="293.4" x2="303.7" y2="293.4" stroke="#2a94d8" stroke-width="1.8"/>
<line x1="282.5" y1="293.4" x2="293.1" y2="293.4" stroke="#e0b838" stroke-width="1.8"/>
<line x1="282.5" y1="293.4" x2="293.1" y2="310.3" stroke="#2a94d8" stroke-width="1.8"/>
<line x1="282.5" y1="293.4" x2="287.8" y2="301.85" stroke="#e0b838" stroke-width="1.8"/>
<line x1="303.7" y1="293.4" x2="314.3" y2="276.8" stroke="#2a94d8" stroke-width="1.8"/>
<line x1="303.7" y1="293.4" x2="309" y2="285.1" stroke="#e0b838" stroke-width="1.8"/>
<line x1="303.7" y1="293.4" x2="324.9" y2="293.4" stroke="#2a94d8" stroke-width="1.8"/>
<line x1="303.7" y1="293.4" x2="314.3" y2="293.4" stroke="#e0b838" stroke-width="1.8"/>
<line x1="303.7" y1="293.4" x2="314.3" y2="310.3" stroke="#2a94d8" stroke-width="1.8"/>
<line x1="303.7" y1="293.4" x2="309" y2="301.85" stroke="#e0b838" stroke-width="1.8"/>
<line x1="324.9" y1="293.4" x2="335.5" y2="276.8" stroke="#2a94d8" stroke-width="1.8"/>
<line x1="324.9" y1="293.4" x2="346.1" y2="293.4" stroke="#2a94d8" stroke-width="1.8"/>
<line x1="324.9" y1="293.4" x2="335.5" y2="310.3" stroke="#2a94d8" stroke-width="1.8"/>
<line x1="335.5" y1="310.3" x2="330.2" y2="301.85" stroke="#e0b838" stroke-width="1.8"/>
<line x1="346.1" y1="293.4" x2="356.7" y2="276.8" stroke="#2a94d8" stroke-width="1.8"/>
<line x1="346.1" y1="293.4" x2="367.3" y2="293.4" stroke="#2a94d8" stroke-width="1.8"/>
<line x1="367.3" y1="293.4" x2="356.7" y2="293.4" stroke="#e0b838" stroke-width="1.8"/>
<line x1="346.1" y1="293.4" x2="356.7" y2="310.3" stroke="#2a94d8" stroke-width="1.8"/>
<line x1="367.3" y1="293.4" x2="377.9" y2="276.8" stroke="#2a94d8" stroke-width="1.8"/>
<line x1="367.3" y1="293.4" x2="372.6" y2="285.1" stroke="#e0b838" stroke-width="1.8"/>
<line x1="367.3" y1="293.4" x2="388.5" y2="293.4" stroke="#2a94d8" stroke-width="1.8"/>
<line x1="367.3" y1="293.4" x2="377.9" y2="293.4" stroke="#e0b838" stroke-width="1.8"/>
<line x1="367.3" y1="293.4" x2="377.9" y2="310.3" stroke="#2a94d8" stroke-width="1.8"/>
<line x1="367.3" y1="293.4" x2="372.6" y2="301.85" stroke="#e0b838" stroke-width="1.8"/>
<line x1="388.5" y1="293.4" x2="399.1" y2="276.8" stroke="#2a94d8" stroke-width="1.8"/>
<line x1="388.5" y1="293.4" x2="409.7" y2="293.4" stroke="#2a94d8" stroke-width="1.8"/>
<line x1="409.7" y1="293.4" x2="399.1" y2="293.4" stroke="#e0b838" stroke-width="1.8"/>
<line x1="388.5" y1="293.4" x2="399.1" y2="310.3" stroke="#2a94d8" stroke-width="1.8"/>
<line x1="399.1" y1="310.3" x2="393.8" y2="301.85" stroke="#e0b838" stroke-width="1.8"/>
<line x1="409.7" y1="293.4" x2="420.3" y2="276.8" stroke="#2a94d8" stroke-width="1.8"/>
<line x1="409.7" y1="293.4" x2="415" y2="285.1" stroke="#e0b838" stroke-width="1.8"/>
<line x1="409.7" y1="293.4" x2="430.9" y2="293.4" stroke="#2a94d8" stroke-width="1.8"/>
<line x1="409.7" y1="293.4" x2="420.3" y2="293.4" stroke="#e0b838" stroke-width="1.8"/>
<line x1="409.7" y1="293.4" x2="420.3" y2="310.3" stroke="#2a94d8" stroke-width="1.8"/>
<line x1="409.7" y1="293.4" x2="415" y2="301.85" stroke="#e0b838" stroke-width="1.8"/>
<line x1="250.7" y1="310.3" x2="261.3" y2="293.4" stroke="#2a94d8" stroke-width="1.8"/>
<line x1="250.7" y1="310.3" x2="256" y2="301.85" stroke="#e0b838" stroke-width="1.8"/>
<line x1="250.7" y1="310.3" x2="271.9" y2="310.3" stroke="#2a94d8" stroke-width="1.8"/>
<line x1="250.7" y1="310.3" x2="261.3" y2="310.3" stroke="#e0b838" stroke-width="1.8"/>
<line x1="250.7" y1="310.3" x2="261.3" y2="327.1" stroke="#2a94d8" stroke-width="1.8"/>
<line x1="250.7" y1="310.3" x2="256" y2="318.7" stroke="#e0b838" stroke-width="1.8"/>
<line x1="271.9" y1="310.3" x2="282.5" y2="293.4" stroke="#2a94d8" stroke-width="1.8"/>
<line x1="271.9" y1="310.3" x2="277.2" y2="301.85" stroke="#e0b838" stroke-width="1.8"/>
<line x1="271.9" y1="310.3" x2="293.1" y2="310.3" stroke="#2a94d8" stroke-width="1.8"/>
<line x1="271.9" y1="310.3" x2="282.5" y2="310.3" stroke="#e0b838" stroke-width="1.8"/>
<line x1="271.9" y1="310.3" x2="282.5" y2="327.1" stroke="#2a94d8" stroke-width="1.8"/>
<line x1="271.9" y1="310.3" x2="277.2" y2="318.7" stroke="#e0b838" stroke-width="1.8"/>
<line x1="293.1" y1="310.3" x2="303.7" y2="293.4" stroke="#2a94d8" stroke-width="1.8"/>
<line x1="303.7" y1="293.4" x2="298.4" y2="301.85" stroke="#e0b838" stroke-width="1.8"/>
<line x1="293.1" y1="310.3" x2="314.3" y2="310.3" stroke="#2a94d8" stroke-width="1.8"/>
<line x1="293.1" y1="310.3" x2="303.7" y2="327.1" stroke="#2a94d8" stroke-width="1.8"/>
<line x1="314.3" y1="310.3" x2="324.9" y2="293.4" stroke="#2a94d8" stroke-width="1.8"/>
<line x1="314.3" y1="310.3" x2="335.5" y2="310.3" stroke="#2a94d8" stroke-width="1.8"/>
<line x1="335.5" y1="310.3" x2="324.9" y2="310.3" stroke="#e0b838" stroke-width="1.8"/>
<line x1="314.3" y1="310.3" x2="324.9" y2="327.1" stroke="#2a94d8" stroke-width="1.8"/>
<line x1="324.9" y1="327.1" x2="319.6" y2="318.7" stroke="#e0b838" stroke-width="1.8"/>
<line x1="335.5" y1="310.3" x2="346.1" y2="293.4" stroke="#2a94d8" stroke-width="1.8"/>
<line x1="335.5" y1="310.3" x2="340.8" y2="301.85" stroke="#e0b838" stroke-width="1.8"/>
<line x1="335.5" y1="310.3" x2="356.7" y2="310.3" stroke="#2a94d8" stroke-width="1.8"/>
<line x1="335.5" y1="310.3" x2="346.1" y2="310.3" stroke="#e0b838" stroke-width="1.8"/>
<line x1="335.5" y1="310.3" x2="346.1" y2="327.1" stroke="#2a94d8" stroke-width="1.8"/>
<line x1="335.5" y1="310.3" x2="340.8" y2="318.7" stroke="#e0b838" stroke-width="1.8"/>
<line x1="356.7" y1="310.3" x2="367.3" y2="293.4" stroke="#2a94d8" stroke-width="1.8"/>
<line x1="367.3" y1="293.4" x2="362" y2="301.85" stroke="#e0b838" stroke-width="1.8"/>
<line x1="356.7" y1="310.3" x2="377.9" y2="310.3" stroke="#2a94d8" stroke-width="1.8"/>
<line x1="377.9" y1="310.3" x2="367.3" y2="310.3" stroke="#e0b838" stroke-width="1.8"/>
<line x1="356.7" y1="310.3" x2="367.3" y2="327.1" stroke="#2a94d8" stroke-width="1.8"/>
<line x1="367.3" y1="327.1" x2="362" y2="318.7" stroke="#e0b838" stroke-width="1.8"/>
<line x1="377.9" y1="310.3" x2="388.5" y2="293.4" stroke="#2a94d8" stroke-width="1.8"/>
<line x1="377.9" y1="310.3" x2="383.2" y2="301.85" stroke="#e0b838" stroke-width="1.8"/>
<line x1="377.9" y1="310.3" x2="399.1" y2="310.3" stroke="#2a94d8" stroke-width="1.8"/>
<line x1="377.9" y1="310.3" x2="388.5" y2="310.3" stroke="#e0b838" stroke-width="1.8"/>
<line x1="377.9" y1="310.3" x2="388.5" y2="327.1" stroke="#2a94d8" stroke-width="1.8"/>
<line x1="377.9" y1="310.3" x2="383.2" y2="318.7" stroke="#e0b838" stroke-width="1.8"/>
<line x1="399.1" y1="310.3" x2="409.7" y2="293.4" stroke="#2a94d8" stroke-width="1.8"/>
<line x1="399.1" y1="310.3" x2="404.4" y2="301.85" stroke="#e0b838" stroke-width="1.8"/>
<line x1="399.1" y1="310.3" x2="420.3" y2="310.3" stroke="#2a94d8" stroke-width="1.8"/>
<line x1="399.1" y1="310.3" x2="409.7" y2="310.3" stroke="#e0b838" stroke-width="1.8"/>
<line x1="399.1" y1="310.3" x2="409.7" y2="327.1" stroke="#2a94d8" stroke-width="1.8"/>
<line x1="399.1" y1="310.3" x2="404.4" y2="318.7" stroke="#e0b838" stroke-width="1.8"/>
<line x1="420.3" y1="310.3" x2="430.9" y2="293.4" stroke="#2a94d8" stroke-width="1.8"/>
<line x1="430.9" y1="293.4" x2="425.6" y2="301.85" stroke="#e0b838" stroke-width="1.8"/>
<line x1="420.3" y1="310.3" x2="430.9" y2="327.1" stroke="#2a94d8" stroke-width="1.8"/>
<line x1="430.9" y1="327.1" x2="425.6" y2="318.7" stroke="#e0b838" stroke-width="1.8"/>
<line x1="261.3" y1="327.1" x2="271.9" y2="310.3" stroke="#2a94d8" stroke-width="1.8"/>
<line x1="261.3" y1="327.1" x2="266.6" y2="318.7" stroke="#e0b838" stroke-width="1.8"/>
<line x1="261.3" y1="327.1" x2="282.5" y2="327.1" stroke="#2a94d8" stroke-width="1.8"/>
<line x1="261.3" y1="327.1" x2="271.9" y2="327.1" stroke="#e0b838" stroke-width="1.8"/>
<line x1="261.3" y1="327.1" x2="271.9" y2="343.9" stroke="#2a94d8" stroke-width="1.8"/>
<line x1="261.3" y1="327.1" x2="266.6" y2="335.5" stroke="#e0b838" stroke-width="1.8"/>
<line x1="282.5" y1="327.1" x2="293.1" y2="310.3" stroke="#2a94d8" stroke-width="1.8"/>
<line x1="282.5" y1="327.1" x2="303.7" y2="327.1" stroke="#2a94d8" stroke-width="1.8"/>
<line x1="282.5" y1="327.1" x2="293.1" y2="343.9" stroke="#2a94d8" stroke-width="1.8"/>
<line x1="293.1" y1="343.9" x2="287.8" y2="335.5" stroke="#e0b838" stroke-width="1.8"/>
<line x1="303.7" y1="327.1" x2="314.3" y2="310.3" stroke="#2a94d8" stroke-width="1.8"/>
<line x1="303.7" y1="327.1" x2="324.9" y2="327.1" stroke="#2a94d8" stroke-width="1.8"/>
<line x1="324.9" y1="327.1" x2="314.3" y2="327.1" stroke="#e0b838" stroke-width="1.8"/>
<line x1="303.7" y1="327.1" x2="314.3" y2="343.9" stroke="#2a94d8" stroke-width="1.8"/>
<line x1="324.9" y1="327.1" x2="335.5" y2="310.3" stroke="#2a94d8" stroke-width="1.8"/>
<line x1="324.9" y1="327.1" x2="330.2" y2="318.7" stroke="#e0b838" stroke-width="1.8"/>
<line x1="324.9" y1="327.1" x2="346.1" y2="327.1" stroke="#2a94d8" stroke-width="1.8"/>
<line x1="324.9" y1="327.1" x2="335.5" y2="327.1" stroke="#e0b838" stroke-width="1.8"/>
<line x1="324.9" y1="327.1" x2="335.5" y2="343.9" stroke="#2a94d8" stroke-width="1.8"/>
<line x1="324.9" y1="327.1" x2="330.2" y2="335.5" stroke="#e0b838" stroke-width="1.8"/>
<line x1="346.1" y1="327.1" x2="356.7" y2="310.3" stroke="#2a94d8" stroke-width="1.8"/>
<line x1="346.1" y1="327.1" x2="367.3" y2="327.1" stroke="#2a94d8" stroke-width="1.8"/>
<line x1="367.3" y1="327.1" x2="356.7" y2="327.1" stroke="#e0b838" stroke-width="1.8"/>
<line x1="346.1" y1="327.1" x2="356.7" y2="343.9" stroke="#2a94d8" stroke-width="1.8"/>
<line x1="356.7" y1="343.9" x2="351.4" y2="335.5" stroke="#e0b838" stroke-width="1.8"/>
<line x1="367.3" y1="327.1" x2="377.9" y2="310.3" stroke="#2a94d8" stroke-width="1.8"/>
<line x1="367.3" y1="327.1" x2="372.6" y2="318.7" stroke="#e0b838" stroke-width="1.8"/>
<line x1="367.3" y1="327.1" x2="388.5" y2="327.1" stroke="#2a94d8" stroke-width="1.8"/>
<line x1="367.3" y1="327.1" x2="377.9" y2="327.1" stroke="#e0b838" stroke-width="1.8"/>
<line x1="367.3" y1="327.1" x2="377.9" y2="343.9" stroke="#2a94d8" stroke-width="1.8"/>
<line x1="367.3" y1="327.1" x2="372.6" y2="335.5" stroke="#e0b838" stroke-width="1.8"/>
<line x1="388.5" y1="327.1" x2="399.1" y2="310.3" stroke="#2a94d8" stroke-width="1.8"/>
<line x1="388.5" y1="327.1" x2="393.8" y2="318.7" stroke="#e0b838" stroke-width="1.8"/>
<line x1="388.5" y1="327.1" x2="409.7" y2="327.1" stroke="#2a94d8" stroke-width="1.8"/>
<line x1="388.5" y1="327.1" x2="399.1" y2="327.1" stroke="#e0b838" stroke-width="1.8"/>
<line x1="388.5" y1="327.1" x2="399.1" y2="343.9" stroke="#2a94d8" stroke-width="1.8"/>
<line x1="388.5" y1="327.1" x2="393.8" y2="335.5" stroke="#e0b838" stroke-width="1.8"/>
<line x1="409.7" y1="327.1" x2="420.3" y2="310.3" stroke="#2a94d8" stroke-width="1.8"/>
<line x1="409.7" y1="327.1" x2="430.9" y2="327.1" stroke="#2a94d8" stroke-width="1.8"/>
<line x1="430.9" y1="327.1" x2="420.3" y2="327.1" stroke="#e0b838" stroke-width="1.8"/>
<line x1="409.7" y1="327.1" x2="420.3" y2="343.9" stroke="#2a94d8" stroke-width="1.8"/>
<line x1="420.3" y1="343.9" x2="415" y2="335.5" stroke="#e0b838" stroke-width="1.8"/>
<line x1="250.7" y1="343.9" x2="261.3" y2="327.1" stroke="#2a94d8" stroke-width="1.8"/>
<line x1="261.3" y1="327.1" x2="256" y2="335.5" stroke="#e0b838" stroke-width="1.8"/>
<line x1="250.7" y1="343.9" x2="271.9" y2="343.9" stroke="#2a94d8" stroke-width="1.8"/>
<line x1="271.9" y1="343.9" x2="282.5" y2="327.1" stroke="#2a94d8" stroke-width="1.8"/>
<line x1="271.9" y1="343.9" x2="293.1" y2="343.9" stroke="#2a94d8" stroke-width="1.8"/>
<line x1="293.1" y1="343.9" x2="282.5" y2="343.9" stroke="#e0b838" stroke-width="1.8"/>
<line x1="293.1" y1="343.9" x2="303.7" y2="327.1" stroke="#2a94d8" stroke-width="1.8"/>
<line x1="293.1" y1="343.9" x2="298.4" y2="335.5" stroke="#e0b838" stroke-width="1.8"/>
<line x1="293.1" y1="343.9" x2="314.3" y2="343.9" stroke="#2a94d8" stroke-width="1.8"/>
<line x1="293.1" y1="343.9" x2="303.7" y2="343.9" stroke="#e0b838" stroke-width="1.8"/>
<line x1="314.3" y1="343.9" x2="324.9" y2="327.1" stroke="#2a94d8" stroke-width="1.8"/>
<line x1="324.9" y1="327.1" x2="319.6" y2="335.5" stroke="#e0b838" stroke-width="1.8"/>
<line x1="314.3" y1="343.9" x2="335.5" y2="343.9" stroke="#2a94d8" stroke-width="1.8"/>
<line x1="335.5" y1="343.9" x2="324.9" y2="343.9" stroke="#e0b838" stroke-width="1.8"/>
<line x1="335.5" y1="343.9" x2="346.1" y2="327.1" stroke="#2a94d8" stroke-width="1.8"/>
<line x1="335.5" y1="343.9" x2="340.8" y2="335.5" stroke="#e0b838" stroke-width="1.8"/>
<line x1="335.5" y1="343.9" x2="356.7" y2="343.9" stroke="#2a94d8" stroke-width="1.8"/>
<line x1="335.5" y1="343.9" x2="346.1" y2="343.9" stroke="#e0b838" stroke-width="1.8"/>
<line x1="356.7" y1="343.9" x2="367.3" y2="327.1" stroke="#2a94d8" stroke-width="1.8"/>
<line x1="356.7" y1="343.9" x2="362" y2="335.5" stroke="#e0b838" stroke-width="1.8"/>
<line x1="356.7" y1="343.9" x2="377.9" y2="343.9" stroke="#2a94d8" stroke-width="1.8"/>
<line x1="356.7" y1="343.9" x2="367.3" y2="343.9" stroke="#e0b838" stroke-width="1.8"/>
<line x1="377.9" y1="343.9" x2="388.5" y2="327.1" stroke="#2a94d8" stroke-width="1.8"/>
<line x1="388.5" y1="327.1" x2="383.2" y2="335.5" stroke="#e0b838" stroke-width="1.8"/>
<line x1="377.9" y1="343.9" x2="399.1" y2="343.9" stroke="#2a94d8" stroke-width="1.8"/>
<line x1="399.1" y1="343.9" x2="388.5" y2="343.9" stroke="#e0b838" stroke-width="1.8"/>
<line x1="399.1" y1="343.9" x2="409.7" y2="327.1" stroke="#2a94d8" stroke-width="1.8"/>
<line x1="399.1" y1="343.9" x2="404.4" y2="335.5" stroke="#e0b838" stroke-width="1.8"/>
<line x1="399.1" y1="343.9" x2="420.3" y2="343.9" stroke="#2a94d8" stroke-width="1.8"/>
<line x1="399.1" y1="343.9" x2="409.7" y2="343.9" stroke="#e0b838" stroke-width="1.8"/>
<line x1="420.3" y1="343.9" x2="430.9" y2="327.1" stroke="#2a94d8" stroke-width="1.8"/>
<line x1="420.3" y1="343.9" x2="425.6" y2="335.5" stroke="#e0b838" stroke-width="1.8"/>
<circle cx="335.5" cy="271.2" r="4.3" fill="url(#gau2)"/>
<circle cx="356.7" cy="271.2" r="4.3" fill="url(#gau2)"/>
<circle cx="441.5" cy="271.2" r="4.3" fill="url(#gau2)"/>
<circle cx="261.3" cy="287.8" r="4.3" fill="url(#gau2)"/>
<circle cx="324.9" cy="287.8" r="4.3" fill="url(#gau2)"/>
<circle cx="346.1" cy="287.8" r="4.3" fill="url(#gau2)"/>
<circle cx="367.3" cy="287.8" r="4.3" fill="url(#gau2)"/>
<circle cx="430.9" cy="287.8" r="4.3" fill="url(#gau2)"/>
<circle cx="271.9" cy="304.4" r="4.3" fill="url(#gau2)"/>
<circle cx="293.1" cy="304.4" r="4.3" fill="url(#gau2)"/>
<circle cx="314.3" cy="304.4" r="4.3" fill="url(#gau2)"/>
<circle cx="377.9" cy="304.4" r="4.3" fill="url(#gau2)"/>
<circle cx="399.1" cy="304.4" r="4.3" fill="url(#gau2)"/>
<circle cx="420.3" cy="304.4" r="4.3" fill="url(#gau2)"/>
<circle cx="261.3" cy="321.3" r="4.3" fill="url(#gau2)"/>
<circle cx="324.9" cy="321.3" r="4.3" fill="url(#gau2)"/>
<circle cx="346.1" cy="321.3" r="4.3" fill="url(#gau2)"/>
<circle cx="367.3" cy="321.3" r="4.3" fill="url(#gau2)"/>
<circle cx="430.9" cy="321.3" r="4.3" fill="url(#gau2)"/>
<circle cx="271.9" cy="338.1" r="4.3" fill="url(#gau2)"/>
<circle cx="293.1" cy="338.1" r="4.3" fill="url(#gau2)"/>
<circle cx="314.3" cy="338.1" r="4.3" fill="url(#gau2)"/>
<circle cx="377.9" cy="338.1" r="4.3" fill="url(#gau2)"/>
<circle cx="399.1" cy="338.1" r="4.3" fill="url(#gau2)"/>
<circle cx="420.3" cy="338.1" r="4.3" fill="url(#gau2)"/>
<circle cx="282.5" cy="354.9" r="4.3" fill="url(#gau2)"/>
<circle cx="303.7" cy="354.9" r="4.3" fill="url(#gau2)"/>
<circle cx="388.5" cy="354.9" r="4.3" fill="url(#gau2)"/>
<circle cx="409.7" cy="354.9" r="4.3" fill="url(#gau2)"/>
<circle cx="261.3" cy="260.2" r="5.1" fill="url(#gau2)"/>
<circle cx="324.9" cy="260.2" r="5.1" fill="url(#gau2)"/>
<circle cx="340.6" cy="260.5" r="4.5" fill="url(#gau2)"/>
<circle cx="346.1" cy="260.2" r="5.1" fill="url(#gau2)"/>
<circle cx="404.2" cy="260.5" r="4.5" fill="url(#gau2)"/>
<circle cx="409.7" cy="260.2" r="5.1" fill="url(#gau2)"/>
<circle cx="293.1" cy="276.8" r="5.1" fill="url(#gau2)"/>
<circle cx="314.3" cy="276.8" r="5.1" fill="url(#gau2)"/>
<circle cx="377.9" cy="276.8" r="5.1" fill="url(#gau2)"/>
<circle cx="414.8" cy="277.1" r="4.5" fill="url(#gau2)"/>
<circle cx="420.3" cy="276.8" r="5.1" fill="url(#gau2)"/>
<circle cx="282.5" cy="293.4" r="5.1" fill="url(#gau2)"/>
<circle cx="303.7" cy="293.4" r="5.1" fill="url(#gau2)"/>
<circle cx="361.8" cy="293.7" r="4.5" fill="url(#gau2)"/>
<circle cx="367.3" cy="293.4" r="5.1" fill="url(#gau2)"/>
<circle cx="404.2" cy="293.7" r="4.5" fill="url(#gau2)"/>
<circle cx="409.7" cy="293.4" r="5.1" fill="url(#gau2)"/>
<circle cx="425.4" cy="293.7" r="4.5" fill="url(#gau2)"/>
<circle cx="430.9" cy="293.4" r="5.1" fill="url(#gau2)"/>
<circle cx="250.7" cy="310.3" r="5.1" fill="url(#gau2)"/>
<circle cx="271.9" cy="310.3" r="5.1" fill="url(#gau2)"/>
<circle cx="330" cy="310.6" r="4.5" fill="url(#gau2)"/>
<circle cx="335.5" cy="310.3" r="5.1" fill="url(#gau2)"/>
<circle cx="372.4" cy="310.6" r="4.5" fill="url(#gau2)"/>
<circle cx="377.9" cy="310.3" r="5.1" fill="url(#gau2)"/>
<circle cx="399.1" cy="310.3" r="5.1" fill="url(#gau2)"/>
<circle cx="255.8" cy="327.4" r="4.5" fill="url(#gau2)"/>
<circle cx="261.3" cy="327.1" r="5.1" fill="url(#gau2)"/>
<circle cx="319.4" cy="327.4" r="4.5" fill="url(#gau2)"/>
<circle cx="324.9" cy="327.1" r="5.1" fill="url(#gau2)"/>
<circle cx="367.3" cy="327.1" r="5.1" fill="url(#gau2)"/>
<circle cx="388.5" cy="327.1" r="5.1" fill="url(#gau2)"/>
<circle cx="430.9" cy="327.1" r="5.1" fill="url(#gau2)"/>
<circle cx="287.6" cy="344.2" r="4.5" fill="url(#gau2)"/>
<circle cx="293.1" cy="343.9" r="5.1" fill="url(#gau2)"/>
<circle cx="330" cy="344.2" r="4.5" fill="url(#gau2)"/>
<circle cx="335.5" cy="343.9" r="5.1" fill="url(#gau2)"/>
<circle cx="351.2" cy="344.2" r="4.5" fill="url(#gau2)"/>
<circle cx="356.7" cy="343.9" r="5.1" fill="url(#gau2)"/>
<circle cx="399.1" cy="343.9" r="5.1" fill="url(#gau2)"/>
<circle cx="420.3" cy="343.9" r="5.1" fill="url(#gau2)"/>
<circle cx="282.5" cy="260.2" r="5.2" fill="url(#gbl2)"/>
<circle cx="303.7" cy="260.2" r="5.2" fill="url(#gbl2)"/>
<circle cx="367.3" cy="260.2" r="5.2" fill="url(#gbl2)"/>
<circle cx="388.5" cy="260.2" r="5.2" fill="url(#gbl2)"/>
<circle cx="430.9" cy="260.2" r="5.2" fill="url(#gbl2)"/>
<circle cx="250.7" cy="276.8" r="5.2" fill="url(#gbl2)"/>
<circle cx="271.9" cy="276.8" r="5.2" fill="url(#gbl2)"/>
<circle cx="335.5" cy="276.8" r="5.2" fill="url(#gbl2)"/>
<circle cx="356.7" cy="276.8" r="5.2" fill="url(#gbl2)"/>
<circle cx="399.1" cy="276.8" r="5.2" fill="url(#gbl2)"/>
<circle cx="261.3" cy="293.4" r="5.2" fill="url(#gbl2)"/>
<circle cx="324.9" cy="293.4" r="5.2" fill="url(#gbl2)"/>
<circle cx="346.1" cy="293.4" r="5.2" fill="url(#gbl2)"/>
<circle cx="388.5" cy="293.4" r="5.2" fill="url(#gbl2)"/>
<circle cx="293.1" cy="310.3" r="5.2" fill="url(#gbl2)"/>
<circle cx="314.3" cy="310.3" r="5.2" fill="url(#gbl2)"/>
<circle cx="356.7" cy="310.3" r="5.2" fill="url(#gbl2)"/>
<circle cx="420.3" cy="310.3" r="5.2" fill="url(#gbl2)"/>
<circle cx="282.5" cy="327.1" r="5.2" fill="url(#gbl2)"/>
<circle cx="303.7" cy="327.1" r="5.2" fill="url(#gbl2)"/>
<circle cx="346.1" cy="327.1" r="5.2" fill="url(#gbl2)"/>
<circle cx="409.7" cy="327.1" r="5.2" fill="url(#gbl2)"/>
<circle cx="250.7" cy="343.9" r="5.2" fill="url(#gbl2)"/>
<circle cx="271.9" cy="343.9" r="5.2" fill="url(#gbl2)"/>
<circle cx="314.3" cy="343.9" r="5.2" fill="url(#gbl2)"/>
<circle cx="377.9" cy="343.9" r="5.2" fill="url(#gbl2)"/>
</g>
<line x1="276" y1="302.7" x2="405" y2="302.7" stroke="#000" stroke-width="1.3" stroke-dasharray="4 2.5"/>
<circle cx="336.9" cy="277.6" r="13.4" fill="none" stroke="#17857c" stroke-width="2.6"/>
<path d="M327.4 268.1 L346.4 287.1 M346.4 268.1 L327.4 287.1" stroke="#17857c" stroke-width="2.6"/>
<circle cx="336.9" cy="325.5" r="13.4" fill="none" stroke="#d92424" stroke-width="2.6"/>
<circle cx="336.9" cy="325.5" r="5.6" fill="#c80000"/>
<path d="M351.3 254.3 L275.8 254.3 L275.8 351.3 L405.5 351.3 L405.5 254.3 L383.5 254.3" fill="none" stroke="#000" stroke-width="1.6"/>
<text x="284.2" y="272" font-family="Liberation Serif, serif" font-size="18.5" fill="#000">ii</text>
<path d="M270.4 320.5 L270.4 357.8 L304 357.8" fill="none" stroke="#000" stroke-width="1.4"/>
<path d="M267.2 326 L270.4 319.5 L273.6 326 L270.4 324 Z" fill="#000"/>
<path d="M298.5 354.6 L305 357.8 L298.5 361 L300.5 357.8 Z" fill="#000"/>
<text x="270.3" y="317.5" text-anchor="middle" font-size="14" fill="#111">b</text>
<text x="311.3" y="362.3" text-anchor="middle" font-size="14" fill="#111">a</text>
<clipPath id="ciii"><rect x="470.8" y="252.8" width="139.3" height="91.4" rx="14"/></clipPath>
<g clip-path="url(#ciii)">
<line x1="487.3" y1="282.1" x2="478.6" y2="275.9" stroke="#e8c84a" stroke-width="1.6"/>
<line x1="487.3" y1="282.1" x2="482.95" y2="279" stroke="#38a8e0" stroke-width="0.9"/>
<line x1="487.3" y1="282.1" x2="494.2" y2="269.2" stroke="#e8c84a" stroke-width="1.6"/>
<line x1="487.3" y1="282.1" x2="490.75" y2="275.65" stroke="#38a8e0" stroke-width="0.9"/>
<line x1="487.3" y1="282.1" x2="476.1" y2="290.8" stroke="#e8c84a" stroke-width="1.6"/>
<line x1="487.3" y1="282.1" x2="481.7" y2="286.45" stroke="#38a8e0" stroke-width="0.9"/>
<line x1="487.3" y1="282.1" x2="492.2" y2="292" stroke="#e8c84a" stroke-width="1.6"/>
<line x1="487.3" y1="282.1" x2="489.75" y2="287.05" stroke="#38a8e0" stroke-width="0.9"/>
<line x1="499.2" y1="279.6" x2="494.2" y2="269.2" stroke="#e8c84a" stroke-width="1.6"/>
<line x1="499.2" y1="279.6" x2="496.7" y2="274.4" stroke="#38a8e0" stroke-width="0.9"/>
<line x1="499.2" y1="279.6" x2="511.6" y2="270.9" stroke="#e8c84a" stroke-width="1.6"/>
<line x1="499.2" y1="279.6" x2="505.4" y2="275.25" stroke="#38a8e0" stroke-width="0.9"/>
<line x1="499.2" y1="279.6" x2="492.2" y2="292" stroke="#e8c84a" stroke-width="1.6"/>
<line x1="499.2" y1="279.6" x2="495.7" y2="285.8" stroke="#38a8e0" stroke-width="0.9"/>
<line x1="499.2" y1="279.6" x2="507" y2="289" stroke="#e8c84a" stroke-width="1.6"/>
<line x1="499.2" y1="279.6" x2="503.1" y2="284.3" stroke="#38a8e0" stroke-width="0.9"/>
<line x1="520" y1="279.6" x2="511.6" y2="270.9" stroke="#e8c84a" stroke-width="1.6"/>
<line x1="520" y1="279.6" x2="515.8" y2="275.25" stroke="#38a8e0" stroke-width="0.9"/>
<line x1="520" y1="279.6" x2="527.7" y2="266.7" stroke="#e8c84a" stroke-width="1.6"/>
<line x1="520" y1="279.6" x2="523.85" y2="273.15" stroke="#38a8e0" stroke-width="0.9"/>
<line x1="520" y1="279.6" x2="524.5" y2="289.6" stroke="#e8c84a" stroke-width="1.6"/>
<line x1="520" y1="279.6" x2="522.25" y2="284.6" stroke="#38a8e0" stroke-width="0.9"/>
<line x1="532" y1="277.6" x2="527.7" y2="266.7" stroke="#e8c84a" stroke-width="1.6"/>
<line x1="532" y1="277.6" x2="529.85" y2="272.15" stroke="#38a8e0" stroke-width="0.9"/>
<line x1="532" y1="277.6" x2="524.5" y2="289.6" stroke="#e8c84a" stroke-width="1.6"/>
<line x1="532" y1="277.6" x2="528.25" y2="283.6" stroke="#38a8e0" stroke-width="0.9"/>
<line x1="532" y1="277.6" x2="540.6" y2="284.6" stroke="#e8c84a" stroke-width="1.6"/>
<line x1="532" y1="277.6" x2="536.3" y2="281.1" stroke="#38a8e0" stroke-width="0.9"/>
<line x1="549.3" y1="277.6" x2="546.8" y2="269.2" stroke="#e8c84a" stroke-width="1.6"/>
<line x1="549.3" y1="277.6" x2="548.05" y2="273.4" stroke="#38a8e0" stroke-width="0.9"/>
<line x1="549.3" y1="277.6" x2="559.2" y2="266.7" stroke="#e8c84a" stroke-width="1.6"/>
<line x1="549.3" y1="277.6" x2="554.25" y2="272.15" stroke="#38a8e0" stroke-width="0.9"/>
<line x1="549.3" y1="277.6" x2="540.6" y2="284.6" stroke="#e8c84a" stroke-width="1.6"/>
<line x1="549.3" y1="277.6" x2="544.95" y2="281.1" stroke="#38a8e0" stroke-width="0.9"/>
<line x1="549.3" y1="277.6" x2="553" y2="289" stroke="#e8c84a" stroke-width="1.6"/>
<line x1="549.3" y1="277.6" x2="551.15" y2="283.3" stroke="#38a8e0" stroke-width="0.9"/>
<line x1="561.7" y1="277.1" x2="559.2" y2="266.7" stroke="#e8c84a" stroke-width="1.6"/>
<line x1="561.7" y1="277.1" x2="560.45" y2="271.9" stroke="#38a8e0" stroke-width="0.9"/>
<line x1="561.7" y1="277.1" x2="553" y2="289" stroke="#e8c84a" stroke-width="1.6"/>
<line x1="561.7" y1="277.1" x2="557.35" y2="283.05" stroke="#38a8e0" stroke-width="0.9"/>
<line x1="561.7" y1="277.1" x2="568" y2="287" stroke="#e8c84a" stroke-width="1.6"/>
<line x1="561.7" y1="277.1" x2="564.85" y2="282.05" stroke="#38a8e0" stroke-width="0.9"/>
<line x1="582.8" y1="283.3" x2="576.1" y2="273.4" stroke="#e8c84a" stroke-width="1.6"/>
<line x1="582.8" y1="283.3" x2="579.45" y2="278.35" stroke="#38a8e0" stroke-width="0.9"/>
<line x1="582.8" y1="283.3" x2="593.5" y2="274.2" stroke="#e8c84a" stroke-width="1.6"/>
<line x1="582.8" y1="283.3" x2="588.15" y2="278.75" stroke="#38a8e0" stroke-width="0.9"/>
<line x1="582.8" y1="283.3" x2="583.5" y2="294" stroke="#e8c84a" stroke-width="1.6"/>
<line x1="582.8" y1="283.3" x2="583.15" y2="288.65" stroke="#38a8e0" stroke-width="0.9"/>
<line x1="594.5" y1="284.6" x2="593.5" y2="274.2" stroke="#e8c84a" stroke-width="1.6"/>
<line x1="594.5" y1="284.6" x2="594" y2="279.4" stroke="#38a8e0" stroke-width="0.9"/>
<line x1="594.5" y1="284.6" x2="605.9" y2="277.1" stroke="#e8c84a" stroke-width="1.6"/>
<line x1="594.5" y1="284.6" x2="600.2" y2="280.85" stroke="#38a8e0" stroke-width="0.9"/>
<line x1="594.5" y1="284.6" x2="583.5" y2="294" stroke="#e8c84a" stroke-width="1.6"/>
<line x1="594.5" y1="284.6" x2="589" y2="289.3" stroke="#38a8e0" stroke-width="0.9"/>
<line x1="594.5" y1="284.6" x2="602.6" y2="293.3" stroke="#e8c84a" stroke-width="1.6"/>
<line x1="594.5" y1="284.6" x2="598.55" y2="288.95" stroke="#38a8e0" stroke-width="0.9"/>
<circle cx="478.6" cy="275.9" r="4.2" fill="url(#gau2)"/>
<circle cx="494.2" cy="269.2" r="4.2" fill="url(#gau2)"/>
<circle cx="511.6" cy="270.9" r="4.2" fill="url(#gau2)"/>
<circle cx="527.7" cy="266.7" r="4.2" fill="url(#gau2)"/>
<circle cx="546.8" cy="269.2" r="4.2" fill="url(#gau2)"/>
<circle cx="559.2" cy="266.7" r="4.2" fill="url(#gau2)"/>
<circle cx="576.1" cy="273.4" r="4.2" fill="url(#gau2)"/>
<circle cx="593.5" cy="274.2" r="4.2" fill="url(#gau2)"/>
<circle cx="605.9" cy="277.1" r="4.2" fill="url(#gau2)"/>
<circle cx="487.3" cy="282.1" r="5.5" fill="url(#gbl2)"/>
<circle cx="499.2" cy="279.6" r="5.5" fill="url(#gbl2)"/>
<circle cx="520" cy="279.6" r="5.5" fill="url(#gbl2)"/>
<circle cx="532" cy="277.6" r="5.5" fill="url(#gbl2)"/>
<circle cx="549.3" cy="277.6" r="5.5" fill="url(#gbl2)"/>
<circle cx="561.7" cy="277.1" r="5.5" fill="url(#gbl2)"/>
<circle cx="582.8" cy="283.3" r="5.5" fill="url(#gbl2)"/>
<circle cx="594.5" cy="284.6" r="5.5" fill="url(#gbl2)"/>
<circle cx="476.1" cy="290.8" r="4.2" fill="url(#gau2)"/>
<circle cx="492.2" cy="292" r="4.2" fill="url(#gau2)"/>
<circle cx="507" cy="289" r="4.2" fill="url(#gau2)"/>
<circle cx="524.5" cy="289.6" r="4.2" fill="url(#gau2)"/>
<circle cx="540.6" cy="284.6" r="4.2" fill="url(#gau2)"/>
<circle cx="553" cy="289" r="4.2" fill="url(#gau2)"/>
<circle cx="568" cy="287" r="4.2" fill="url(#gau2)"/>
<circle cx="583.5" cy="294" r="4.2" fill="url(#gau2)"/>
<circle cx="602.6" cy="293.3" r="4.2" fill="url(#gau2)"/>
<line x1="479.8" y1="322.3" x2="473.6" y2="310.6" stroke="#e8c84a" stroke-width="1.6"/>
<line x1="479.8" y1="322.3" x2="476.7" y2="316.45" stroke="#38a8e0" stroke-width="0.9"/>
<line x1="479.8" y1="322.3" x2="489.2" y2="313.9" stroke="#e8c84a" stroke-width="1.6"/>
<line x1="479.8" y1="322.3" x2="484.5" y2="318.1" stroke="#38a8e0" stroke-width="0.9"/>
<line x1="479.8" y1="322.3" x2="477.3" y2="331.7" stroke="#e8c84a" stroke-width="1.6"/>
<line x1="479.8" y1="322.3" x2="478.55" y2="327" stroke="#38a8e0" stroke-width="0.9"/>
<line x1="502.1" y1="321.8" x2="489.2" y2="313.9" stroke="#e8c84a" stroke-width="1.6"/>
<line x1="502.1" y1="321.8" x2="495.65" y2="317.85" stroke="#38a8e0" stroke-width="0.9"/>
<line x1="502.1" y1="321.8" x2="505.9" y2="310.6" stroke="#e8c84a" stroke-width="1.6"/>
<line x1="502.1" y1="321.8" x2="504" y2="316.2" stroke="#38a8e0" stroke-width="0.9"/>
<line x1="502.1" y1="321.8" x2="493.5" y2="329.3" stroke="#e8c84a" stroke-width="1.6"/>
<line x1="502.1" y1="321.8" x2="497.8" y2="325.55" stroke="#38a8e0" stroke-width="0.9"/>
<line x1="502.1" y1="321.8" x2="510.1" y2="331.7" stroke="#e8c84a" stroke-width="1.6"/>
<line x1="502.1" y1="321.8" x2="506.1" y2="326.75" stroke="#38a8e0" stroke-width="0.9"/>
<line x1="514" y1="322.3" x2="505.9" y2="310.6" stroke="#e8c84a" stroke-width="1.6"/>
<line x1="514" y1="322.3" x2="509.95" y2="316.45" stroke="#38a8e0" stroke-width="0.9"/>
<line x1="514" y1="322.3" x2="522" y2="313.9" stroke="#e8c84a" stroke-width="1.6"/>
<line x1="514" y1="322.3" x2="518" y2="318.1" stroke="#38a8e0" stroke-width="0.9"/>
<line x1="514" y1="322.3" x2="510.1" y2="331.7" stroke="#e8c84a" stroke-width="1.6"/>
<line x1="514" y1="322.3" x2="512.05" y2="327" stroke="#38a8e0" stroke-width="0.9"/>
<line x1="534.9" y1="321.3" x2="522" y2="313.9" stroke="#e8c84a" stroke-width="1.6"/>
<line x1="534.9" y1="321.3" x2="528.45" y2="317.6" stroke="#38a8e0" stroke-width="0.9"/>
<line x1="534.9" y1="321.3" x2="538.1" y2="310.6" stroke="#e8c84a" stroke-width="1.6"/>
<line x1="534.9" y1="321.3" x2="536.5" y2="315.95" stroke="#38a8e0" stroke-width="0.9"/>
<line x1="534.9" y1="321.3" x2="527" y2="329.3" stroke="#e8c84a" stroke-width="1.6"/>
<line x1="534.9" y1="321.3" x2="530.95" y2="325.3" stroke="#38a8e0" stroke-width="0.9"/>
<line x1="534.9" y1="321.3" x2="543.8" y2="331.7" stroke="#e8c84a" stroke-width="1.6"/>
<line x1="534.9" y1="321.3" x2="539.35" y2="326.5" stroke="#38a8e0" stroke-width="0.9"/>
<line x1="546.8" y1="322.3" x2="538.1" y2="310.6" stroke="#e8c84a" stroke-width="1.6"/>
<line x1="546.8" y1="322.3" x2="542.45" y2="316.45" stroke="#38a8e0" stroke-width="0.9"/>
<line x1="546.8" y1="322.3" x2="555" y2="313.9" stroke="#e8c84a" stroke-width="1.6"/>
<line x1="546.8" y1="322.3" x2="550.9" y2="318.1" stroke="#38a8e0" stroke-width="0.9"/>
<line x1="546.8" y1="322.3" x2="543.8" y2="331.7" stroke="#e8c84a" stroke-width="1.6"/>
<line x1="546.8" y1="322.3" x2="545.3" y2="327" stroke="#38a8e0" stroke-width="0.9"/>
<line x1="567.9" y1="321.3" x2="555" y2="313.9" stroke="#e8c84a" stroke-width="1.6"/>
<line x1="567.9" y1="321.3" x2="561.45" y2="317.6" stroke="#38a8e0" stroke-width="0.9"/>
<line x1="567.9" y1="321.3" x2="571.6" y2="310.6" stroke="#e8c84a" stroke-width="1.6"/>
<line x1="567.9" y1="321.3" x2="569.75" y2="315.95" stroke="#38a8e0" stroke-width="0.9"/>
<line x1="567.9" y1="321.3" x2="560.5" y2="329.3" stroke="#e8c84a" stroke-width="1.6"/>
<line x1="567.9" y1="321.3" x2="564.2" y2="325.3" stroke="#38a8e0" stroke-width="0.9"/>
<line x1="567.9" y1="321.3" x2="576.6" y2="331.7" stroke="#e8c84a" stroke-width="1.6"/>
<line x1="567.9" y1="321.3" x2="572.25" y2="326.5" stroke="#38a8e0" stroke-width="0.9"/>
<line x1="579.6" y1="322.3" x2="571.6" y2="310.6" stroke="#e8c84a" stroke-width="1.6"/>
<line x1="579.6" y1="322.3" x2="575.6" y2="316.45" stroke="#38a8e0" stroke-width="0.9"/>
<line x1="579.6" y1="322.3" x2="588.5" y2="313.9" stroke="#e8c84a" stroke-width="1.6"/>
<line x1="579.6" y1="322.3" x2="584.05" y2="318.1" stroke="#38a8e0" stroke-width="0.9"/>
<line x1="579.6" y1="322.3" x2="576.6" y2="331.7" stroke="#e8c84a" stroke-width="1.6"/>
<line x1="579.6" y1="322.3" x2="578.1" y2="327" stroke="#38a8e0" stroke-width="0.9"/>
<line x1="601.4" y1="321.3" x2="588.5" y2="313.9" stroke="#e8c84a" stroke-width="1.6"/>
<line x1="601.4" y1="321.3" x2="594.95" y2="317.6" stroke="#38a8e0" stroke-width="0.9"/>
<line x1="601.4" y1="321.3" x2="604.4" y2="310.6" stroke="#e8c84a" stroke-width="1.6"/>
<line x1="601.4" y1="321.3" x2="602.9" y2="315.95" stroke="#38a8e0" stroke-width="0.9"/>
<line x1="601.4" y1="321.3" x2="592.7" y2="329.3" stroke="#e8c84a" stroke-width="1.6"/>
<line x1="601.4" y1="321.3" x2="597.05" y2="325.3" stroke="#38a8e0" stroke-width="0.9"/>
<line x1="601.4" y1="321.3" x2="607.6" y2="331.7" stroke="#e8c84a" stroke-width="1.6"/>
<line x1="601.4" y1="321.3" x2="604.5" y2="326.5" stroke="#38a8e0" stroke-width="0.9"/>
<circle cx="473.6" cy="310.6" r="4.2" fill="url(#gau2)"/>
<circle cx="489.2" cy="313.9" r="4.2" fill="url(#gau2)"/>
<circle cx="505.9" cy="310.6" r="4.2" fill="url(#gau2)"/>
<circle cx="522" cy="313.9" r="4.2" fill="url(#gau2)"/>
<circle cx="538.1" cy="310.6" r="4.2" fill="url(#gau2)"/>
<circle cx="555" cy="313.9" r="4.2" fill="url(#gau2)"/>
<circle cx="571.6" cy="310.6" r="4.2" fill="url(#gau2)"/>
<circle cx="588.5" cy="313.9" r="4.2" fill="url(#gau2)"/>
<circle cx="604.4" cy="310.6" r="4.2" fill="url(#gau2)"/>
<circle cx="479.8" cy="322.3" r="5.5" fill="url(#gbl2)"/>
<circle cx="502.1" cy="321.8" r="5.5" fill="url(#gbl2)"/>
<circle cx="514" cy="322.3" r="5.5" fill="url(#gbl2)"/>
<circle cx="534.9" cy="321.3" r="5.5" fill="url(#gbl2)"/>
<circle cx="546.8" cy="322.3" r="5.5" fill="url(#gbl2)"/>
<circle cx="567.9" cy="321.3" r="5.5" fill="url(#gbl2)"/>
<circle cx="579.6" cy="322.3" r="5.5" fill="url(#gbl2)"/>
<circle cx="601.4" cy="321.3" r="5.5" fill="url(#gbl2)"/>
<circle cx="477.3" cy="331.7" r="4.2" fill="url(#gau2)"/>
<circle cx="493.5" cy="329.3" r="4.2" fill="url(#gau2)"/>
<circle cx="510.1" cy="331.7" r="4.2" fill="url(#gau2)"/>
<circle cx="527" cy="329.3" r="4.2" fill="url(#gau2)"/>
<circle cx="543.8" cy="331.7" r="4.2" fill="url(#gau2)"/>
<circle cx="560.5" cy="329.3" r="4.2" fill="url(#gau2)"/>
<circle cx="576.6" cy="331.7" r="4.2" fill="url(#gau2)"/>
<circle cx="592.7" cy="329.3" r="4.2" fill="url(#gau2)"/>
<circle cx="607.6" cy="331.7" r="4.2" fill="url(#gau2)"/>
</g>
<path d="M502.6 280.9 L502.6 309.4 L498.4 309.4 L506.2 316.8 L514 309.4 L510 309.4 L510 280.9Z" fill="#14705e" fill-opacity="0.85"/>
<path d="M568.6 316.8 L568.6 288.3 L564.2 288.3 L572.3 279.6 L580.3 288.3 L576.6 288.3 L576.6 316.8Z" fill="#f22a2a" fill-opacity="0.82"/>
<line x1="540.1" y1="252.5" x2="540.1" y2="345" stroke="#000" stroke-width="1.2" stroke-dasharray="3 2"/>
<path d="M528.2 252.2 L595.8 252.2 Q610.8 252.2 610.8 267.2 L610.8 329.9 Q610.8 344.9 595.8 344.9 L485.2 344.9 Q470.2 344.9 470.2 329.9 L470.2 267.2 Q470.2 252.2 485.2 252.2 L493.5 252.2" fill="none" stroke="#000" stroke-width="1.6"/>
<text x="474.6" y="267.6" font-family="Liberation Serif, serif" font-size="18.5" fill="#000">iii</text>
<path d="M464.4 314.1 L464.4 350.3 L496.5 350.3" fill="none" stroke="#000" stroke-width="1.4"/>
<path d="M461.2 319.6 L464.4 313.1 L467.6 319.6 L464.4 317.6 Z" fill="#000"/>
<path d="M491 347.1 L497.5 350.3 L491 353.5 L493 350.3 Z" fill="#000"/>
<text x="462.7" y="309.5" text-anchor="middle" font-size="14" fill="#111">c</text>
<text x="504.5" y="355" text-anchor="middle" font-size="14" fill="#111">a</text>
<g id="pb">
<rect x="40.5" y="736.4" width="267" height="5.3" fill="url(#cbar)"/>
<rect x="40.5" y="424.5" width="267" height="317" fill="none" stroke="#2b2b2b" stroke-width="1.2"/>
<line x1="40.5" y1="530.5" x2="307.5" y2="530.5" stroke="#2b2b2b" stroke-width="1.2"/>
<line x1="40.5" y1="635.5" x2="307.5" y2="635.5" stroke="#2b2b2b" stroke-width="1.2"/>
<line x1="285.6" y1="530.5" x2="285.6" y2="528" stroke="#2b2b2b" stroke-width="1"/>
<line x1="63.4" y1="635.5" x2="63.4" y2="633" stroke="#2b2b2b" stroke-width="1"/>
<line x1="162.6" y1="635.5" x2="162.6" y2="633" stroke="#2b2b2b" stroke-width="1"/>
<line x1="284.5" y1="635.5" x2="284.5" y2="633" stroke="#2b2b2b" stroke-width="1"/>
<line x1="67.6" y1="741.5" x2="67.6" y2="736.5" stroke="#2b2b2b" stroke-width="1"/>
<line x1="165.5" y1="741.5" x2="165.5" y2="736.5" stroke="#2b2b2b" stroke-width="1"/>
<line x1="285.3" y1="741.5" x2="285.3" y2="736.5" stroke="#2b2b2b" stroke-width="1"/>
<line x1="40.5" y1="442.3" x2="44" y2="442.3" stroke="#2b2b2b" stroke-width="1"/>
<text x="37.2" y="445.5" text-anchor="end" font-size="9" fill="#333">0.20</text>
<line x1="40.5" y1="477.2" x2="44" y2="477.2" stroke="#2b2b2b" stroke-width="1"/>
<text x="37.2" y="480.4" text-anchor="end" font-size="9" fill="#333">0.16</text>
<line x1="40.5" y1="512.2" x2="44" y2="512.2" stroke="#2b2b2b" stroke-width="1"/>
<text x="37.2" y="515.4" text-anchor="end" font-size="9" fill="#333">0.12</text>
<line x1="40.5" y1="547.5" x2="44" y2="547.5" stroke="#2b2b2b" stroke-width="1"/>
<text x="37.2" y="550.7" text-anchor="end" font-size="9" fill="#333">2.16</text>
<line x1="40.5" y1="582.8" x2="44" y2="582.8" stroke="#2b2b2b" stroke-width="1"/>
<text x="37.2" y="586" text-anchor="end" font-size="9" fill="#333">2.12</text>
<line x1="40.5" y1="618" x2="44" y2="618" stroke="#2b2b2b" stroke-width="1"/>
<text x="37.2" y="621.2" text-anchor="end" font-size="9" fill="#333">2.08</text>
<line x1="40.5" y1="647.4" x2="44" y2="647.4" stroke="#2b2b2b" stroke-width="1"/>
<text x="37.2" y="650.6" text-anchor="end" font-size="9" fill="#333">83.13</text>
<line x1="40.5" y1="682.6" x2="44" y2="682.6" stroke="#2b2b2b" stroke-width="1"/>
<text x="37.2" y="685.8" text-anchor="end" font-size="9" fill="#333">83.10</text>
<line x1="40.5" y1="717.6" x2="44" y2="717.6" stroke="#2b2b2b" stroke-width="1"/>
<text x="37.2" y="720.8" text-anchor="end" font-size="9" fill="#333">83.07</text>
<line x1="307.5" y1="449.4" x2="304" y2="449.4" stroke="#2b2b2b" stroke-width="1"/>
<text x="311.3" y="452.6" font-size="9" fill="#333">1</text>
<line x1="307.5" y1="477" x2="304" y2="477" stroke="#2b2b2b" stroke-width="1"/>
<text x="311.3" y="480.2" font-size="9" fill="#333">0</text>
<line x1="307.5" y1="504.8" x2="304" y2="504.8" stroke="#2b2b2b" stroke-width="1"/>
<text x="311.3" y="508" font-size="9" fill="#333">−1</text>
<line x1="307.5" y1="547.8" x2="304" y2="547.8" stroke="#2b2b2b" stroke-width="1"/>
<text x="311.3" y="551" font-size="9" fill="#333">8</text>
<line x1="307.5" y1="582.8" x2="304" y2="582.8" stroke="#2b2b2b" stroke-width="1"/>
<text x="311.3" y="586" font-size="9" fill="#333">7</text>
<line x1="307.5" y1="617.5" x2="304" y2="617.5" stroke="#2b2b2b" stroke-width="1"/>
<text x="311.3" y="620.7" font-size="9" fill="#333">6</text>
<line x1="307.5" y1="653.1" x2="304" y2="653.1" stroke="#2b2b2b" stroke-width="1"/>
<text x="311.3" y="656.3" font-size="9" fill="#333">193</text>
<line x1="307.5" y1="688.3" x2="304" y2="688.3" stroke="#2b2b2b" stroke-width="1"/>
<text x="311.3" y="691.5" font-size="9" fill="#333">192</text>
<line x1="307.5" y1="723.3" x2="304" y2="723.3" stroke="#2b2b2b" stroke-width="1"/>
<text x="311.3" y="726.5" font-size="9" fill="#333">191</text>
<text x="48.3" y="437.3" font-size="13" fill="#222">(a)</text>
<text x="48.3" y="542.4" font-size="13" fill="#222">(b)</text>
<text x="48.3" y="648.3" font-size="13" fill="#222">(c)</text>
<text x="258.6" y="439" font-size="13" fill="#222">WTe<tspan font-size="9" dy="3">2</tspan></text>
<text x="264.5" y="547.3" font-size="13" fill="#222">BN</text>
<text x="255.2" y="650.4" font-size="13" fill="#222">PbTiO<tspan font-size="9" dy="3">3</tspan></text>
<text transform="translate(12.0 529.8) rotate(-90)" text-anchor="middle" font-size="12.2" fill="#222"><tspan font-style="italic">P</tspan>(pC/m)</text>
<text transform="translate(10.6 691.3) rotate(-90)" text-anchor="middle" font-size="12.2" fill="#222"><tspan font-style="italic">P</tspan>(μC/cm<tspan font-size="8" dy="-4.5">2</tspan><tspan dy="4.5">)</tspan></text>
<text transform="translate(335.2 578.9) rotate(-90)" text-anchor="middle" font-size="12.9" fill="#222">δ(meV/u.c.)</text>
<text x="82.9" y="758.3" text-anchor="middle" font-size="11.5" fill="#222">Low</text>
<text x="279.2" y="758.3" text-anchor="middle" font-size="11.5" fill="#222">High</text>
<text x="174.2" y="776" text-anchor="middle" font-size="15.6" fill="#222">Temperature</text>
<polyline points="72.5,461.4 93.8,459.6 114.9,458.9 136.2,457.9 157.6,457.4 200.4,455.9 243.1,453.4 285.8,450.9" fill="none" stroke="#111" stroke-width="1.8"/>
<circle cx="72.5" cy="461.4" r="2.9" fill="url(#bo)"/>
<circle cx="93.8" cy="459.6" r="2.9" fill="url(#bo)"/>
<circle cx="114.9" cy="458.9" r="2.9" fill="url(#bo)"/>
<circle cx="136.2" cy="457.9" r="2.9" fill="url(#bo)"/>
<circle cx="157.6" cy="457.4" r="2.9" fill="url(#bo)"/>
<circle cx="200.4" cy="455.9" r="2.9" fill="url(#bo)"/>
<circle cx="243.1" cy="453.4" r="2.9" fill="url(#bo)"/>
<circle cx="285.8" cy="450.9" r="2.9" fill="url(#bo)"/>
<path d="M72.5 442.3C76 442.4 86.7 442.1 93.8 442.8C100.9 443.5 107.8 445.3 114.9 446.7C122 448.1 129.1 449.5 136.2 451.4C143.3 453.3 146.9 453.7 157.6 457.9C168.3 462.1 186.2 469.6 200.4 476.5C214.7 483.4 228.9 492.1 243.1 499.3C257.3 506.5 278.7 516.5 285.8 519.9" fill="none" stroke="#111" stroke-width="1.8"/>
<circle cx="72.5" cy="442.3" r="2.9" fill="url(#bg)"/>
<circle cx="93.8" cy="442.8" r="2.9" fill="url(#bg)"/>
<circle cx="114.9" cy="446.7" r="2.9" fill="url(#bg)"/>
<circle cx="136.2" cy="451.4" r="2.9" fill="url(#bg)"/>
<circle cx="157.6" cy="457.9" r="2.9" fill="url(#bg)"/>
<circle cx="200.4" cy="476.5" r="2.9" fill="url(#bg)"/>
<circle cx="243.1" cy="499.3" r="2.9" fill="url(#bg)"/>
<circle cx="285.8" cy="519.9" r="2.9" fill="url(#bg)"/>
<polyline points="63.3,572.7 85.4,572.7 107.5,572.7 129.5,572.7 151.6,572.7 196.2,572.7 240.3,572.7 284.5,572.7" fill="none" stroke="#111" stroke-width="1.8"/>
<circle cx="63.3" cy="572.7" r="2.9" fill="url(#bo)"/>
<circle cx="85.4" cy="572.7" r="2.9" fill="url(#bo)"/>
<circle cx="107.5" cy="572.7" r="2.9" fill="url(#bo)"/>
<circle cx="129.5" cy="572.7" r="2.9" fill="url(#bo)"/>
<circle cx="151.6" cy="572.7" r="2.9" fill="url(#bo)"/>
<circle cx="196.2" cy="572.7" r="2.9" fill="url(#bo)"/>
<circle cx="240.3" cy="572.7" r="2.9" fill="url(#bo)"/>
<circle cx="284.5" cy="572.7" r="2.9" fill="url(#bo)"/>
<polyline points="63.3,594.8 85.4,594.8 107.5,594.8 129.5,594.8 151.6,594.8 196.2,594.8 240.3,594.8 284.5,594.8" fill="none" stroke="#111" stroke-width="1.8"/>
<circle cx="63.3" cy="594.8" r="2.9" fill="url(#bg)"/>
<circle cx="85.4" cy="594.8" r="2.9" fill="url(#bg)"/>
<circle cx="107.5" cy="594.8" r="2.9" fill="url(#bg)"/>
<circle cx="129.5" cy="594.8" r="2.9" fill="url(#bg)"/>
<circle cx="151.6" cy="594.8" r="2.9" fill="url(#bg)"/>
<circle cx="196.2" cy="594.8" r="2.9" fill="url(#bg)"/>
<circle cx="240.3" cy="594.8" r="2.9" fill="url(#bg)"/>
<circle cx="284.5" cy="594.8" r="2.9" fill="url(#bg)"/>
<polyline points="67.5,686 89.3,686 111.2,686 133,686 154.6,686 198.4,686 241.7,686 285.1,684.7" fill="none" stroke="#111" stroke-width="1.8"/>
<circle cx="67.5" cy="686" r="2.9" fill="url(#bo)"/>
<circle cx="89.3" cy="686" r="2.9" fill="url(#bo)"/>
<circle cx="111.2" cy="686" r="2.9" fill="url(#bo)"/>
<circle cx="133" cy="686" r="2.9" fill="url(#bo)"/>
<circle cx="154.6" cy="686" r="2.9" fill="url(#bo)"/>
<circle cx="198.4" cy="686" r="2.9" fill="url(#bo)"/>
<circle cx="241.7" cy="686" r="2.9" fill="url(#bo)"/>
<circle cx="285.1" cy="684.7" r="2.9" fill="url(#bo)"/>
<polyline points="67.5,706 89.3,706 111.2,706 133,706 154.6,706 198.4,706 241.7,706 285.1,706" fill="none" stroke="#111" stroke-width="1.8"/>
<circle cx="67.5" cy="706" r="2.9" fill="url(#bg)"/>
<circle cx="89.3" cy="706" r="2.9" fill="url(#bg)"/>
<circle cx="111.2" cy="706" r="2.9" fill="url(#bg)"/>
<circle cx="133" cy="706" r="2.9" fill="url(#bg)"/>
<circle cx="154.6" cy="706" r="2.9" fill="url(#bg)"/>
<circle cx="198.4" cy="706" r="2.9" fill="url(#bg)"/>
<circle cx="241.7" cy="706" r="2.9" fill="url(#bg)"/>
<circle cx="285.1" cy="706" r="2.9" fill="url(#bg)"/>
<line x1="147" y1="430.8" x2="168.9" y2="430.8" stroke="#111" stroke-width="1.8"/>
<circle cx="158" cy="430.8" r="2.9" fill="url(#bo)"/>
<line x1="147" y1="442.6" x2="168.9" y2="442.6" stroke="#111" stroke-width="1.8"/>
<circle cx="158" cy="442.6" r="2.9" fill="url(#bg)"/>
<text x="171.3" y="433.9" font-size="9.5" fill="#222">δ</text>
<text x="171.5" y="445.7" font-size="9" fill="#222">P</text>
<rect x="62.8" y="475.6" width="15.4" height="91.7" fill="#fff"/>
<rect x="78.2" y="475.6" width="114.4" height="91.7" fill="#fff" stroke="#777" stroke-width="1"/>
<text x="79.5" y="486.2" font-size="10.9" fill="#222" textLength="111" lengthAdjust="spacingAndGlyphs">Fermi-Dirac distribution</text>
<polyline points="78.2,497.4 126.2,497.4 126.2,567.3" fill="none" stroke="#333" stroke-width="1"/>
<polyline points="78.2,498.3 79.2,498.4 80.2,498.5 81.2,498.5 82.2,498.7 83.2,498.8 84.2,498.9 85.2,499 86.2,499.2 87.2,499.4 88.2,499.5 89.2,499.7 90.2,500 91.2,500.2 92.2,500.4 93.2,500.7 94.2,501 95.2,501.3 96.2,501.7 97.2,502.1 98.2,502.5 99.2,502.9 100.2,503.4 101.2,503.9 102.2,504.5 103.2,505.1 104.2,505.7 105.2,506.4 106.2,507.2 107.2,508 108.2,508.8 109.2,509.7 110.2,510.6 111.2,511.6 112.2,512.7 113.2,513.8 114.2,515 115.2,516.2 116.2,517.5 117.2,518.8 118.2,520.2 119.2,521.6 120.2,523 121.2,524.5 122.2,526.1 123.2,527.6 124.2,529.2 125.2,530.8 126.2,532.3 127.2,533.9 128.2,535.5 129.2,537.1 130.2,538.6 131.2,540.2 132.2,541.7 133.2,543.1 134.2,544.5 135.2,545.9 136.2,547.2 137.2,548.5 138.2,549.7 139.2,550.9 140.2,552 141.2,553.1 142.2,554.1 143.2,555 144.2,555.9 145.2,556.7 146.2,557.5 147.2,558.3 148.2,559 149.2,559.6 150.2,560.2 151.2,560.8 152.2,561.3 153.2,561.8 154.2,562.2 155.2,562.6 156.2,563 157.2,563.4 158.2,563.7 159.2,564 160.2,564.3 161.2,564.5 162.2,564.7 163.2,565 164.2,565.2 165.2,565.3 166.2,565.5 167.2,565.7 168.2,565.8 169.2,565.9 170.2,566 171.2,566.2 172.2,566.2 173.2,566.3 174.2,566.4 175.2,566.5 176.2,566.6 177.2,566.6 178.2,566.7 179.2,566.7 180.2,566.8 181.2,566.8 182.2,566.9 183.2,566.9 184.2,566.9 185.2,567 186.2,567 187.2,567 188.2,567.1 189.2,567.1 190.2,567.1 191.2,567.1" fill="none" stroke="#e8252b" stroke-width="1"/>
<polyline points="78.2,497.4 79.2,497.4 80.2,497.4 81.2,497.4 82.2,497.4 83.2,497.4 84.2,497.4 85.2,497.4 86.2,497.4 87.2,497.4 88.2,497.4 89.2,497.4 90.2,497.4 91.2,497.4 92.2,497.5 93.2,497.5 94.2,497.5 95.2,497.5 96.2,497.5 97.2,497.6 98.2,497.6 99.2,497.7 100.2,497.7 101.2,497.8 102.2,497.9 103.2,498 104.2,498.1 105.2,498.3 106.2,498.5 107.2,498.7 108.2,499 109.2,499.4 110.2,499.8 111.2,500.3 112.2,501 113.2,501.8 114.2,502.7 115.2,503.8 116.2,505.1 117.2,506.7 118.2,508.5 119.2,510.6 120.2,513 121.2,515.6 122.2,518.6 123.2,521.8 124.2,525.2 125.2,528.7 126.2,532.3 127.2,536 128.2,539.5 129.2,542.9 130.2,546.1 131.2,549.1 132.2,551.7 133.2,554.1 134.2,556.2 135.2,558 136.2,559.6 137.2,560.9 138.2,562 139.2,562.9 140.2,563.7 141.2,564.4 142.2,564.9 143.2,565.3 144.2,565.7 145.2,566 146.2,566.2 147.2,566.4 148.2,566.6 149.2,566.7 150.2,566.8 151.2,566.9 152.2,567 153.2,567 154.2,567.1 155.2,567.1 156.2,567.2 157.2,567.2 158.2,567.2 159.2,567.2 160.2,567.2 161.2,567.3 162.2,567.3 163.2,567.3 164.2,567.3 165.2,567.3 166.2,567.3 167.2,567.3 168.2,567.3 169.2,567.3 170.2,567.3 171.2,567.3 172.2,567.3 173.2,567.3 174.2,567.3 175.2,567.3 176.2,567.3 177.2,567.3 178.2,567.3 179.2,567.3 180.2,567.3 181.2,567.3 182.2,567.3 183.2,567.3 184.2,567.3 185.2,567.3 186.2,567.3 187.2,567.3 188.2,567.3 189.2,567.3 190.2,567.3 191.2,567.3" fill="none" stroke="#1f8fd8" stroke-width="1"/>
<text x="76" y="496.2" text-anchor="end" font-size="8.3" font-weight="bold" fill="#222">1.0</text>
<text x="76" y="531.1" text-anchor="end" font-size="8.3" font-weight="bold" fill="#222">0.5</text>
<text x="76" y="566.1" text-anchor="end" font-size="8.3" font-weight="bold" fill="#222">0.0</text>
<text transform="translate(94.5 520.5) rotate(-90)" text-anchor="middle" font-size="12" fill="#222">f(E)</text>
<text x="112.2" y="564.5" font-size="12" fill="#222">E<tspan font-size="8.5" dy="2.5">F</tspan></text>
<line x1="140" y1="499.6" x2="146.3" y2="499.6" stroke="#e8252b" stroke-width="1.3"/>
<text x="148.5" y="503.8" font-size="12" fill="#222">High T</text>
<line x1="140" y1="517.5" x2="146.3" y2="517.5" stroke="#1f8fd8" stroke-width="1.3"/>
<text x="150" y="521.7" font-size="12" fill="#222">Low T</text>
<line x1="140" y1="535.3" x2="146.3" y2="535.3" stroke="#111" stroke-width="1.3"/>
<text x="157" y="539.5" font-size="12" fill="#222">0K</text>
<text x="4.2" y="418.5" font-size="18" font-weight="bold" fill="#111">b</text>
</g>
<g id="pc">
<rect x="398.5" y="422.5" width="265" height="316" fill="none" stroke="#2b2b2b" stroke-width="1.2"/>
<line x1="398.5" y1="700" x2="402" y2="700" stroke="#2b2b2b" stroke-width="1"/>
<text x="395" y="703.2" text-anchor="end" font-size="9" fill="#333">0.0</text>
<line x1="398.5" y1="620.7" x2="402" y2="620.7" stroke="#2b2b2b" stroke-width="1"/>
<text x="395" y="623.9" text-anchor="end" font-size="9" fill="#333">0.6</text>
<line x1="398.5" y1="541.5" x2="402" y2="541.5" stroke="#2b2b2b" stroke-width="1"/>
<text x="395" y="544.7" text-anchor="end" font-size="9" fill="#333">1.2</text>
<line x1="398.5" y1="462.2" x2="402" y2="462.2" stroke="#2b2b2b" stroke-width="1"/>
<text x="395" y="465.4" text-anchor="end" font-size="9" fill="#333">1.8</text>
<line x1="531.6" y1="738.5" x2="531.6" y2="735" stroke="#2b2b2b" stroke-width="1"/>
<text x="398.8" y="753.8" text-anchor="middle" font-size="10.5" fill="#222">PE</text>
<text x="531" y="752.5" text-anchor="middle" font-size="10.5" fill="#222">FE</text>
<text x="531.1" y="772.3" text-anchor="middle" font-size="15.4" fill="#222">Structure</text>
<text transform="translate(378.6 581.8) rotate(-90)" text-anchor="middle" font-size="13.1" fill="#222">Δ(meV/u.c.)</text>
<text x="359.6" y="414" font-size="18" font-weight="bold" fill="#111">c</text>
<path d="M399.1 606.3 L404 606.8 L408.8 607.6 L413.3 608.8 L417.6 610.3 L421.8 612.1 L425.7 614.2 L429.6 616.5 L433.3 619 L437 621.7 L440.5 624.6 L444 627.6 L447.4 630.8 L450.7 634 L454.1 637.3 L457.4 640.6 L460.7 644 L464.1 647.3 L467.5 650.6 L471 653.8 L474.6 656.9 L478.2 660 L482 662.8 L485.8 665.6 L489.8 668.1 L493.8 670.5 L497.9 672.7 L502.1 674.6 L506.4 676.3 L510.8 677.8 L515.2 679 L519.8 679.9 L524.3 680.5 L529 680.9 L533.6 680.9 L538.2 680.6 L542.8 680.1 L547.3 679.3 L551.8 678.1 L556.2 676.7 L560.4 675 L564.5 673 L568.5 670.8 L572.3 668.3 L576 665.5 L579.5 662.6 L582.8 659.4 L585.9 656 L588.9 652.5 L591.6 648.8 L594.1 644.9 L596.4 641 L598.6 636.8 L600.6 632.6 L602.4 628.3 L604.1 623.9 L605.7 619.5 L607.2 615 L608.5 610.4 L609.9 605.9 L611.1 601.3 L612.3 596.8 L613.4 592.2 L614.5 587.7 L615.6 583.1 L616.6 578.5 L617.6 574 L618.5 569.4 L619.4 564.9 L620.2 560.3 L621 555.7 L621.8 551.2 L622.6 546.6 L623.3 542 L624 537.5 L624.7 532.9 L625.3 528.3 L625.9 523.7 L626.6 519.2 L627.2 514.6 L627.7 510 L628.3 505.4 L628.9 500.8 L629.5 496.2 L630 491.6 L630.6 487 L631.1 482.4 L631.7 477.8 L632.2 473.1 L632.8 468.5" fill="none" stroke="#000" stroke-width="4.6"/>
<path d="M399.1 606.3 L403.9 606.7 L408.5 607.5 L412.9 608.6 L417.2 609.9 L421.2 611.6 L425.2 613.4 L429 615.5 L432.6 617.8 L436.2 620.2 L439.8 622.7 L443.2 625.4 L446.7 628.2 L450.1 631 L453.5 633.9 L456.9 636.8 L460.3 639.7 L463.8 642.5 L467.3 645.3 L471 648 L474.7 650.6 L478.5 653.1 L482.4 655.4 L486.5 657.6 L490.6 659.6 L494.9 661.5 L499.1 663.2 L503.5 664.7 L507.9 666 L512.3 667.1 L516.8 668 L521.2 668.7 L525.7 669.1 L530.2 669.4 L534.6 669.4 L539 669.1 L543.4 668.6 L547.7 667.9 L551.9 666.9 L556.1 665.6 L560.1 664.1 L564.1 662.2 L567.9 660.2 L571.7 657.9 L575.3 655.3 L578.7 652.6 L582 649.6 L585.1 646.5 L588.1 643.1 L590.8 639.6 L593.4 636 L595.8 632.2 L598 628.3 L600.1 624.3 L602 620.2 L603.8 616 L605.4 611.7 L607 607.4 L608.5 603.1 L609.9 598.7 L611.2 594.4 L612.5 590 L613.7 585.7 L614.8 581.3 L615.9 576.9 L617 572.6 L618 568.2 L618.9 563.8 L619.9 559.4 L620.7 555.1 L621.6 550.7 L622.4 546.3 L623.1 541.9 L623.8 537.5 L624.5 533.1 L625.2 528.7 L625.8 524.3 L626.4 519.9 L627 515.5 L627.6 511 L628.1 506.6 L628.7 502.2 L629.2 497.7 L629.7 493.3 L630.2 488.8 L630.7 484.4 L631.2 479.9 L631.6 475.5 L632.1 471 L632.6 466.5" fill="none" stroke="#ff0000" stroke-width="4.6"/>
<path d="M399.1 606.3 L403.6 606.5 L408 607 L412.2 607.8 L416.4 608.8 L420.4 610 L424.3 611.5 L428.2 613.1 L432 614.9 L435.7 616.9 L439.4 619 L443 621.1 L446.6 623.4 L450.2 625.7 L453.9 628.1 L457.5 630.4 L461.1 632.8 L464.8 635.1 L468.5 637.4 L472.2 639.6 L476.1 641.7 L480 643.6 L484 645.5 L488 647.2 L492.1 648.8 L496.2 650.3 L500.4 651.6 L504.7 652.8 L508.9 653.7 L513.2 654.6 L517.4 655.2 L521.7 655.7 L526 656 L530.2 656.1 L534.5 656 L538.7 655.7 L542.9 655.1 L547 654.4 L551.1 653.5 L555.1 652.3 L559 650.9 L562.9 649.2 L566.7 647.4 L570.4 645.3 L574 643 L577.4 640.6 L580.8 637.9 L584 635.1 L587 632.2 L590 629 L592.7 625.7 L595.3 622.3 L597.7 618.8 L600 615.1 L602.2 611.4 L604.2 607.5 L606 603.6 L607.8 599.6 L609.4 595.5 L611 591.4 L612.4 587.2 L613.8 583 L615 578.8 L616.2 574.6 L617.2 570.3 L618.3 566.1 L619.2 561.8 L620.1 557.6 L620.9 553.3 L621.7 549.1 L622.4 544.8 L623 540.6 L623.7 536.4 L624.2 532.1 L624.8 527.9 L625.3 523.6 L625.8 519.4 L626.2 515.1 L626.7 510.8 L627.1 506.6 L627.5 502.3 L627.9 498.1 L628.3 493.8 L628.7 489.5 L629.1 485.3 L629.5 481 L629.9 476.7 L630.4 472.5 L630.8 468.2 L631.3 463.9" fill="none" stroke="#19aeef" stroke-width="4.6"/>
<line x1="526.5" y1="439.3" x2="552.7" y2="439.3" stroke="#ff0000" stroke-width="4.6"/>
<text x="564.8" y="444.5" font-size="14" fill="#111">High T</text>
<line x1="526.5" y1="460.9" x2="553.5" y2="460.9" stroke="#19aeef" stroke-width="4.6"/>
<text x="567" y="466" font-size="14" fill="#111">Low T</text>
<path d="M398.4 605.5 H407.6 M412.2 605.5 H423.1 M428 605.5 H441.3" stroke="#000" stroke-width="2.8"/>
<path d="M398.4 701.0 H407.6 M412.2 701.0 H423.1 M428 701.0 H441.3" stroke="#000" stroke-width="2.8"/>
<line x1="415.3" y1="607" x2="415.3" y2="641" stroke="#000" stroke-width="1.3"/>
<line x1="415.3" y1="671" x2="415.3" y2="700" stroke="#000" stroke-width="1.3"/>
<polyline points="410.5,616 415.3,607.2 420.1,616" fill="none" stroke="#000" stroke-width="1.3"/>
<polyline points="410.5,691 415.3,699.8 420.1,691" fill="none" stroke="#000" stroke-width="1.3"/>
<text x="409.8" y="661.4" font-size="14" font-style="italic" fill="#111">δ</text>
<text x="489.8" y="638.4" font-size="14" fill="#111">Δ= <tspan font-style="italic">δ</tspan> - <tspan font-style="italic">E</tspan>·<tspan font-style="italic">P</tspan></text>
<defs><radialGradient id="gau3" cx="0.36" cy="0.32" r="0.7"><stop offset="0" stop-color="#fffbd0"/><stop offset="0.3" stop-color="#f5d01e"/><stop offset="1" stop-color="#b88c00"/></radialGradient><radialGradient id="gbl3" cx="0.45" cy="0.45" r="0.6"><stop offset="0" stop-color="#9ae0ff"/><stop offset="0.35" stop-color="#1a8ee0"/><stop offset="1" stop-color="#0a5aa8"/></radialGradient></defs>
<line x1="455.6" y1="524.3" x2="476.4" y2="512.8" stroke="#e2b832" stroke-width="1.6"/>
<line x1="455.6" y1="524.3" x2="466" y2="518.5" stroke="#2a94dc" stroke-width="1.6"/>
<line x1="455.6" y1="524.3" x2="468.8" y2="537.2" stroke="#e2b832" stroke-width="1.6"/>
<line x1="455.6" y1="524.3" x2="462.2" y2="530.8" stroke="#2a94dc" stroke-width="1.6"/>
<line x1="489.3" y1="525.6" x2="476.4" y2="512.8" stroke="#e2b832" stroke-width="1.6"/>
<line x1="489.3" y1="525.6" x2="482.9" y2="519.2" stroke="#2a94dc" stroke-width="1.6"/>
<line x1="489.3" y1="525.6" x2="502.8" y2="507.6" stroke="#e2b832" stroke-width="1.6"/>
<line x1="489.3" y1="525.6" x2="496.1" y2="516.6" stroke="#2a94dc" stroke-width="1.6"/>
<line x1="489.3" y1="525.6" x2="468.8" y2="537.2" stroke="#e2b832" stroke-width="1.6"/>
<line x1="489.3" y1="525.6" x2="479.1" y2="531.4" stroke="#2a94dc" stroke-width="1.6"/>
<line x1="489.3" y1="525.6" x2="494.9" y2="542.3" stroke="#e2b832" stroke-width="1.6"/>
<line x1="489.3" y1="525.6" x2="492.1" y2="534" stroke="#2a94dc" stroke-width="1.6"/>
<line x1="463" y1="581.8" x2="468.8" y2="565.4" stroke="#e2b832" stroke-width="1.6"/>
<line x1="463" y1="581.8" x2="465.9" y2="573.6" stroke="#2a94dc" stroke-width="1.6"/>
<line x1="463" y1="581.8" x2="476.4" y2="599.8" stroke="#e2b832" stroke-width="1.6"/>
<line x1="463" y1="581.8" x2="469.7" y2="590.8" stroke="#2a94dc" stroke-width="1.6"/>
<line x1="482" y1="583.9" x2="468.8" y2="565.4" stroke="#e2b832" stroke-width="1.6"/>
<line x1="482" y1="583.9" x2="475.4" y2="574.6" stroke="#2a94dc" stroke-width="1.6"/>
<line x1="482" y1="583.9" x2="494.9" y2="570.7" stroke="#e2b832" stroke-width="1.6"/>
<line x1="482" y1="583.9" x2="488.4" y2="577.3" stroke="#2a94dc" stroke-width="1.6"/>
<line x1="482" y1="583.9" x2="476.4" y2="599.8" stroke="#e2b832" stroke-width="1.6"/>
<line x1="482" y1="583.9" x2="479.2" y2="591.8" stroke="#2a94dc" stroke-width="1.6"/>
<line x1="482" y1="583.9" x2="502.3" y2="595.4" stroke="#e2b832" stroke-width="1.6"/>
<line x1="482" y1="583.9" x2="492.1" y2="589.6" stroke="#2a94dc" stroke-width="1.6"/>
<ellipse cx="468.8" cy="544.1" rx="5.9" ry="2.1" fill="#22d3dc"/>
<ellipse cx="467.7" cy="556.8" rx="7.1" ry="5" fill="#22d3dc"/>
<ellipse cx="493.8" cy="551" rx="6.5" ry="4.3" fill="#22d3dc"/>
<ellipse cx="495.1" cy="564" rx="6.2" ry="2.1" fill="#22d3dc"/>
<ellipse cx="484.7" cy="531.9" rx="4.3" ry="2.5" fill="#22d3dc"/>
<ellipse cx="459" cy="575.6" rx="3.7" ry="3.1" fill="#22d3dc"/>
<ellipse cx="491" cy="520" rx="3.1" ry="2.5" fill="#22d3dc"/>
<ellipse cx="466.5" cy="587" rx="2.5" ry="1.9" fill="#22d3dc"/>
<ellipse cx="505" cy="568" rx="1.2" ry="1.6" fill="#22d3dc"/>
<ellipse cx="468.8" cy="550.6" rx="5" ry="2.5" fill="#e6e033"/>
<ellipse cx="495.8" cy="556.8" rx="5" ry="2.5" fill="#e6e033"/>
<ellipse cx="458.4" cy="518" rx="2.5" ry="2.5" fill="#e6e033"/>
<ellipse cx="504.8" cy="529.8" rx="3.1" ry="1.9" fill="#e6e033"/>
<ellipse cx="483.4" cy="590" rx="2.5" ry="2.5" fill="#e6e033"/>
<ellipse cx="461.9" cy="586.7" rx="3.7" ry="2.5" fill="#e6e033"/>
<ellipse cx="486.5" cy="523" rx="2.5" ry="1.9" fill="#e6e033"/>
<ellipse cx="490" cy="528" rx="2.5" ry="1.9" fill="#e6e033"/>
<circle cx="476.4" cy="512.8" r="4.2" fill="url(#gau3)"/>
<circle cx="502.8" cy="507.6" r="4.2" fill="url(#gau3)"/>
<circle cx="468.8" cy="537.2" r="4.2" fill="url(#gau3)"/>
<circle cx="494.9" cy="542.3" r="4.2" fill="url(#gau3)"/>
<circle cx="468.8" cy="565.4" r="4.2" fill="url(#gau3)"/>
<circle cx="494.9" cy="570.7" r="4.2" fill="url(#gau3)"/>
<circle cx="476.4" cy="599.8" r="4.2" fill="url(#gau3)"/>
<circle cx="502.3" cy="595.4" r="4.2" fill="url(#gau3)"/>
<circle cx="455.6" cy="524.3" r="4.4" fill="url(#gbl3)"/>
<ellipse cx="456.4" cy="524.8" rx="1.6" ry="1.3" fill="#b8d860" fill-opacity="0.7"/>
<circle cx="489.3" cy="525.6" r="4.4" fill="url(#gbl3)"/>
<ellipse cx="490.1" cy="526.1" rx="1.6" ry="1.3" fill="#b8d860" fill-opacity="0.7"/>
<circle cx="463" cy="581.8" r="4.4" fill="url(#gbl3)"/>
<ellipse cx="463.8" cy="582.3" rx="1.6" ry="1.3" fill="#b8d860" fill-opacity="0.7"/>
<circle cx="482" cy="583.9" r="4.4" fill="url(#gbl3)"/>
<ellipse cx="482.8" cy="584.4" rx="1.6" ry="1.3" fill="#b8d860" fill-opacity="0.7"/>
<line x1="468.8" y1="509" x2="468.8" y2="604" stroke="#000" stroke-width="1.6" stroke-dasharray="4.8 2.8"/>
<line x1="495.8" y1="509" x2="495.8" y2="604" stroke="#000" stroke-width="1.6" stroke-dasharray="4.8 2.8"/>
<line x1="562.5" y1="525.6" x2="549.6" y2="512.2" stroke="#e2b832" stroke-width="1.6"/>
<line x1="562.5" y1="525.6" x2="556" y2="518.9" stroke="#2a94dc" stroke-width="1.6"/>
<line x1="562.5" y1="525.6" x2="576.4" y2="507.2" stroke="#e2b832" stroke-width="1.6"/>
<line x1="562.5" y1="525.6" x2="569.5" y2="516.4" stroke="#2a94dc" stroke-width="1.6"/>
<line x1="562.5" y1="525.6" x2="542" y2="537.2" stroke="#e2b832" stroke-width="1.6"/>
<line x1="562.5" y1="525.6" x2="552.2" y2="531.4" stroke="#2a94dc" stroke-width="1.6"/>
<line x1="562.5" y1="525.6" x2="568.1" y2="542.3" stroke="#e2b832" stroke-width="1.6"/>
<line x1="562.5" y1="525.6" x2="565.3" y2="534" stroke="#2a94dc" stroke-width="1.6"/>
<line x1="581.5" y1="523.6" x2="576.4" y2="507.2" stroke="#e2b832" stroke-width="1.6"/>
<line x1="581.5" y1="523.6" x2="579" y2="515.4" stroke="#2a94dc" stroke-width="1.6"/>
<line x1="539" y1="582.5" x2="544.5" y2="565.4" stroke="#e2b832" stroke-width="1.6"/>
<line x1="539" y1="582.5" x2="541.8" y2="574" stroke="#2a94dc" stroke-width="1.6"/>
<line x1="539" y1="582.5" x2="553.1" y2="600.1" stroke="#e2b832" stroke-width="1.6"/>
<line x1="539" y1="582.5" x2="546" y2="591.3" stroke="#2a94dc" stroke-width="1.6"/>
<line x1="558" y1="583.9" x2="544.5" y2="565.4" stroke="#e2b832" stroke-width="1.6"/>
<line x1="558" y1="583.9" x2="551.2" y2="574.6" stroke="#2a94dc" stroke-width="1.6"/>
<line x1="558" y1="583.9" x2="571.1" y2="570.7" stroke="#e2b832" stroke-width="1.6"/>
<line x1="558" y1="583.9" x2="564.5" y2="577.3" stroke="#2a94dc" stroke-width="1.6"/>
<line x1="558" y1="583.9" x2="553.1" y2="600.1" stroke="#e2b832" stroke-width="1.6"/>
<line x1="558" y1="583.9" x2="555.5" y2="592" stroke="#2a94dc" stroke-width="1.6"/>
<line x1="558" y1="583.9" x2="578.8" y2="595.7" stroke="#e2b832" stroke-width="1.6"/>
<line x1="558" y1="583.9" x2="568.4" y2="589.8" stroke="#2a94dc" stroke-width="1.6"/>
<ellipse cx="543.4" cy="544.1" rx="5.9" ry="2.1" fill="#22d3dc"/>
<ellipse cx="543.4" cy="556.8" rx="7.1" ry="4.7" fill="#22d3dc"/>
<ellipse cx="568.4" cy="551" rx="6.5" ry="4.3" fill="#22d3dc"/>
<ellipse cx="571.1" cy="564" rx="6.2" ry="2.1" fill="#22d3dc"/>
<ellipse cx="556.6" cy="531.9" rx="4.3" ry="2.5" fill="#22d3dc"/>
<ellipse cx="534.8" cy="575.6" rx="3.7" ry="3.1" fill="#22d3dc"/>
<ellipse cx="565.6" cy="520.8" rx="3.1" ry="2.5" fill="#22d3dc"/>
<ellipse cx="541.5" cy="587" rx="2.5" ry="1.9" fill="#22d3dc"/>
<ellipse cx="543.4" cy="551" rx="5" ry="2.5" fill="#e6e033"/>
<ellipse cx="555.6" cy="554" rx="3.1" ry="4.7" fill="#e6e033"/>
<ellipse cx="570.4" cy="556.6" rx="5" ry="2.5" fill="#e6e033"/>
<ellipse cx="532.6" cy="518" rx="1.9" ry="2.5" fill="#e6e033"/>
<ellipse cx="532.6" cy="527.7" rx="1.9" ry="1.9" fill="#e6e033"/>
<ellipse cx="561.2" cy="522" rx="3.1" ry="1.9" fill="#e6e033"/>
<ellipse cx="537.9" cy="586.7" rx="3.7" ry="2.5" fill="#e6e033"/>
<ellipse cx="560.7" cy="589.4" rx="2.5" ry="2.5" fill="#e6e033"/>
<ellipse cx="579.4" cy="529" rx="3.1" ry="1.9" fill="#e6e033"/>
<circle cx="549.6" cy="512.2" r="4.2" fill="url(#gau3)"/>
<circle cx="576.4" cy="507.2" r="4.2" fill="url(#gau3)"/>
<circle cx="542" cy="537.2" r="4.2" fill="url(#gau3)"/>
<circle cx="568.1" cy="542.3" r="4.2" fill="url(#gau3)"/>
<circle cx="544.5" cy="565.4" r="4.2" fill="url(#gau3)"/>
<circle cx="571.1" cy="570.7" r="4.2" fill="url(#gau3)"/>
<circle cx="553.1" cy="600.1" r="4.2" fill="url(#gau3)"/>
<circle cx="578.8" cy="595.7" r="4.2" fill="url(#gau3)"/>
<circle cx="562.5" cy="525.6" r="4.4" fill="url(#gbl3)"/>
<ellipse cx="563.3" cy="526.1" rx="1.6" ry="1.3" fill="#b8d860" fill-opacity="0.7"/>
<circle cx="581.5" cy="523.6" r="4.4" fill="url(#gbl3)"/>
<ellipse cx="582.3" cy="524.1" rx="1.6" ry="1.3" fill="#b8d860" fill-opacity="0.7"/>
<circle cx="539" cy="582.5" r="4.4" fill="url(#gbl3)"/>
<ellipse cx="539.8" cy="583" rx="1.6" ry="1.3" fill="#b8d860" fill-opacity="0.7"/>
<circle cx="558" cy="583.9" r="4.4" fill="url(#gbl3)"/>
<ellipse cx="558.8" cy="584.4" rx="1.6" ry="1.3" fill="#b8d860" fill-opacity="0.7"/>
<line x1="544.1" y1="509" x2="544.1" y2="604" stroke="#000" stroke-width="1.6" stroke-dasharray="4.8 2.8"/>
<line x1="571.8" y1="509" x2="571.8" y2="604" stroke="#000" stroke-width="1.6" stroke-dasharray="4.8 2.8"/>
<text x="480.3" y="498" text-anchor="middle" font-size="14" fill="#111">PE</text>
<text x="556" y="498" text-anchor="middle" font-size="14" fill="#111">FE</text>
</g>
</svg></body></html>
